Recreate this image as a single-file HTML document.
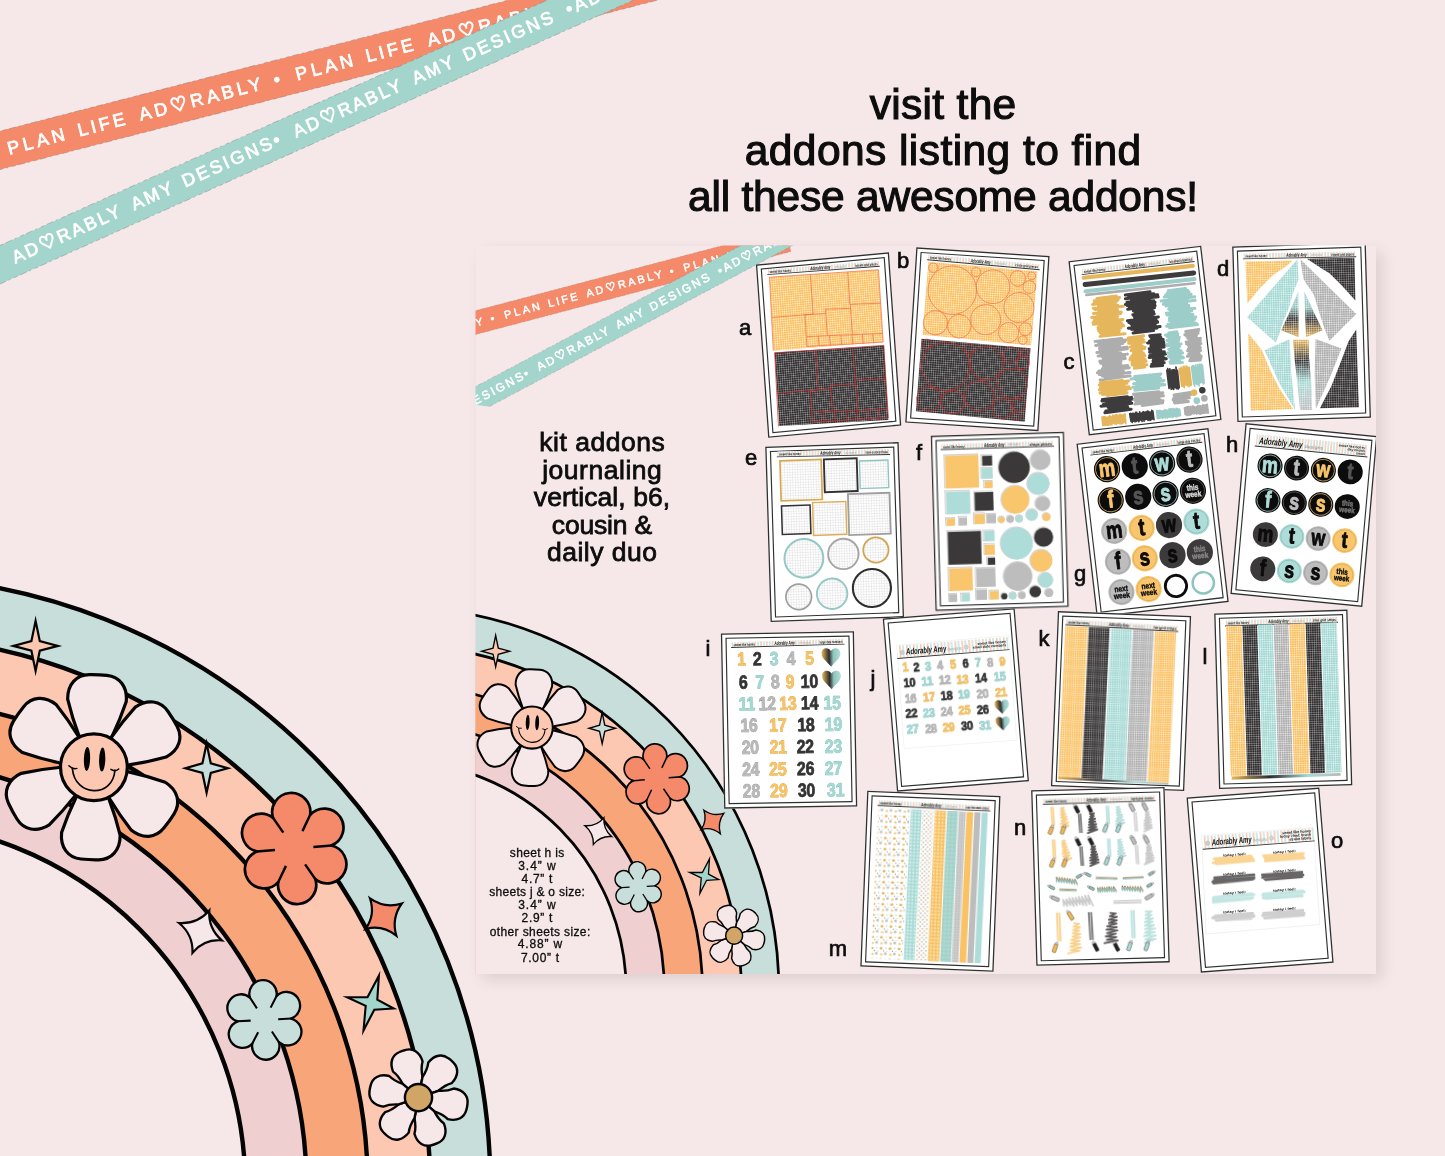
<!DOCTYPE html>
<html lang="en"><head><meta charset="utf-8"><title>kit addons</title>
<style>
html,body{margin:0;padding:0;overflow:hidden;}
body{width:1445px;height:1156px;overflow:hidden;background:#F6E8E9;position:relative;font-family:"Liberation Sans","DejaVu Sans",sans-serif;}
svg{position:absolute;left:0;top:0;display:block;overflow:hidden;will-change:transform}
.t{position:absolute;text-align:center;white-space:pre;line-height:normal;will-change:transform;}
.card{position:absolute;left:475.5px;top:245.5px;width:900.5px;height:728.5px;background:#F6E8E9;box-shadow:6px 6px 14px rgba(20,10,12,0.105);}
.lab{position:absolute;width:40px;height:40px;line-height:40px;text-align:center;font-size:22px;color:#0d0d0d;-webkit-text-stroke:0.7px #0d0d0d;will-change:transform;}
text{white-space:pre}
</style></head>
<body>
<svg width="1445" height="1156" viewBox="0 0 1445 1156">
<defs>
<g id="rainbow"><g>
<circle cx="-118.2" cy="1185.3" r="608.55" fill="#C8DEDA" stroke="#040404" stroke-width="4.4"/>
<circle cx="-118.2" cy="1185.3" r="548.3" fill="#FCC8B2" stroke="#040404" stroke-width="4.4"/>
<circle cx="-118.2" cy="1185.3" r="485.9" fill="#F8A579" stroke="#040404" stroke-width="4.4"/>
<circle cx="-118.2" cy="1185.3" r="424.7" fill="#F0CFD0" stroke="#040404" stroke-width="4.4"/>
<circle cx="-118.2" cy="1185.3" r="363.4" fill="#F6E8E9" stroke="#040404" stroke-width="4.4"/>
<path d="M35.60,620.90 L39.80,641.10 L57.90,645.90 L39.80,650.70 L35.60,670.90 L31.40,650.70 L13.30,645.90 L31.40,641.10 Z" fill="#FCC8B2" stroke="#040404" stroke-width="2.2" stroke-linejoin="miter" stroke-miterlimit="12"/>
<path d="M206.60,743.60 L210.80,763.40 L227.80,768.20 L210.80,773.00 L206.60,792.80 L202.40,773.00 L185.40,768.20 L202.40,763.40 Z" fill="#C8DEDA" stroke="#040404" stroke-width="2.2" stroke-linejoin="miter" stroke-miterlimit="12"/>
<g transform="translate(93.9,767.2)">
<path d="M0,0 L-16.43,-30.90 Q-24.15,-48.84 -29.30,-66.78 C-30.18,-81.70 -21.68,-91.58 -8.79,-92.31 Q0,-92.87 8.79,-92.31 C21.68,-91.58 30.18,-81.70 29.30,-66.78 Q24.15,-48.84 16.43,-30.90 Z" transform="rotate(2.6)" fill="#F6E8E9" stroke="#040404" stroke-width="3.2" stroke-linejoin="round"/>
<path d="M0,0 L-16.43,-30.90 Q-24.15,-48.84 -29.30,-66.78 C-30.18,-81.70 -21.68,-91.58 -8.79,-92.31 Q0,-92.87 8.79,-92.31 C21.68,-91.58 30.18,-81.70 29.30,-66.78 Q24.15,-48.84 16.43,-30.90 Z" transform="rotate(58.3)" fill="#F6E8E9" stroke="#040404" stroke-width="3.2" stroke-linejoin="round"/>
<path d="M0,0 L-16.43,-30.90 Q-24.15,-48.84 -29.30,-66.78 C-30.18,-81.70 -21.68,-91.58 -8.79,-92.31 Q0,-92.87 8.79,-92.31 C21.68,-91.58 30.18,-81.70 29.30,-66.78 Q24.15,-48.84 16.43,-30.90 Z" transform="rotate(125.6)" fill="#F6E8E9" stroke="#040404" stroke-width="3.2" stroke-linejoin="round"/>
<path d="M0,0 L-16.43,-30.90 Q-24.15,-48.84 -29.30,-66.78 C-30.18,-81.70 -21.68,-91.58 -8.79,-92.31 Q0,-92.87 8.79,-92.31 C21.68,-91.58 30.18,-81.70 29.30,-66.78 Q24.15,-48.84 16.43,-30.90 Z" transform="rotate(182.6)" fill="#F6E8E9" stroke="#040404" stroke-width="3.2" stroke-linejoin="round"/>
<path d="M0,0 L-16.43,-30.90 Q-24.15,-48.84 -29.30,-66.78 C-30.18,-81.70 -21.68,-91.58 -8.79,-92.31 Q0,-92.87 8.79,-92.31 C21.68,-91.58 30.18,-81.70 29.30,-66.78 Q24.15,-48.84 16.43,-30.90 Z" transform="rotate(241.5)" fill="#F6E8E9" stroke="#040404" stroke-width="3.2" stroke-linejoin="round"/>
<path d="M0,0 L-16.43,-30.90 Q-24.15,-48.84 -29.30,-66.78 C-30.18,-81.70 -21.68,-91.58 -8.79,-92.31 Q0,-92.87 8.79,-92.31 C21.68,-91.58 30.18,-81.70 29.30,-66.78 Q24.15,-48.84 16.43,-30.90 Z" transform="rotate(305.3)" fill="#F6E8E9" stroke="#040404" stroke-width="3.2" stroke-linejoin="round"/>
<circle r="33.4" fill="#FCC8B2" stroke="#040404" stroke-width="3.2"/>
<ellipse cx="-6.9" cy="-8.3" rx="3.1" ry="12" fill="#040404" transform="rotate(2 -6.9 -8.3)"/>
<ellipse cx="8.3" cy="-7.6" rx="3.1" ry="12" fill="#040404" transform="rotate(2 8.3 -7.6)"/>
<path d="M-21.5,1.5 C-19,30 19,31 21,3" fill="none" stroke="#040404" stroke-width="1.7" stroke-linecap="round"/>
<path d="M-25,-1.5 Q-21,2.5 -17,1.2 M24.8,1.8 Q21,5 17,2.2" fill="none" stroke="#040404" stroke-width="1.5" stroke-linecap="round"/>
</g>
<g transform="translate(294.2,848.5) rotate(-4.6)">
<path d="M37.15,0.00 A19.10,19.10 0 1 1 18.58,32.17 A19.10,19.10 0 1 1 -18.58,32.17 A19.10,19.10 0 1 1 -37.15,0.00 A19.10,19.10 0 1 1 -18.58,-32.17 A19.10,19.10 0 1 1 18.58,-32.17 A19.10,19.10 0 1 1 37.15,0.00 Z" fill="#F58A6B" stroke="#040404" stroke-width="2.7" stroke-linejoin="round"/>
<path d="M37.65,0.00 L19.22,0.00 M18.83,32.61 L9.61,16.64 M-18.83,32.61 L-9.61,16.64 M-37.65,0.00 L-19.22,0.00 M-18.83,-32.61 L-9.61,-16.64 M18.83,-32.61 L9.61,-16.64 " fill="none" stroke="#040404" stroke-width="2.43" stroke-linecap="butt"/>
</g>
<path d="M370.00,898.40 Q384.65,908.79 401.80,903.50 Q391.23,918.09 396.30,935.60 Q382.15,924.46 365.50,929.00 Q375.57,915.16 370.00,898.40 Z" fill="#F58A6B" stroke="#040404" stroke-width="2.2" stroke-linejoin="miter" stroke-miterlimit="10"/>
<path d="M179.00,923.00 Q197.40,924.19 209.30,910.50 Q208.10,928.51 221.80,940.30 Q203.90,939.06 192.50,952.70 Q193.20,934.74 179.00,923.00 Z" fill="#F6E8E9" stroke="#040404" stroke-width="2.2" stroke-linejoin="miter" stroke-miterlimit="10"/>
<g transform="translate(264.4,1019.9) rotate(-3)">
<path d="M26.61,0.00 A13.68,13.68 0 1 1 13.31,23.05 A13.68,13.68 0 1 1 -13.31,23.05 A13.68,13.68 0 1 1 -26.61,0.00 A13.68,13.68 0 1 1 -13.31,-23.05 A13.68,13.68 0 1 1 13.31,-23.05 A13.68,13.68 0 1 1 26.61,0.00 Z" fill="#C8DEDA" stroke="#040404" stroke-width="2.3" stroke-linejoin="round"/>
<path d="M27.11,0.00 L13.77,0.00 M13.56,23.48 L6.88,11.92 M-13.56,23.48 L-6.88,11.92 M-27.11,0.00 L-13.77,0.00 M-13.56,-23.48 L-6.88,-11.92 M13.56,-23.48 L6.88,-11.92 " fill="none" stroke="#040404" stroke-width="2.07" stroke-linecap="butt"/>
</g>
<path d="M378.90,975.70 L377.30,999.70 L393.70,1008.50 L374.30,1009.70 L363.50,1030.50 L365.70,1005.90 L347.10,997.20 L367.50,997.30 Z" fill="#A4D5CC" stroke="#040404" stroke-width="2.1" stroke-linejoin="miter" stroke-miterlimit="12"/>
<g transform="translate(418.5,1097.6)">
<path d="M0,0 L-10.50,-18.19 Q-11.77,-27.28 -15.60,-32.85 C-16.07,-43.11 -10.61,-48.91 -3.12,-49.30 Q0,-49.60 3.12,-49.30 C10.61,-48.91 16.07,-43.11 15.60,-32.85 Q11.77,-27.28 10.50,-18.19 Z" transform="rotate(-19)" fill="#F6E8E9" stroke="#040404" stroke-width="2.4" stroke-linejoin="round"/>
<path d="M0,0 L-10.50,-18.19 Q-11.77,-27.28 -15.60,-32.85 C-16.07,-43.11 -10.61,-48.91 -3.12,-49.30 Q0,-49.60 3.12,-49.30 C10.61,-48.91 16.07,-43.11 15.60,-32.85 Q11.77,-27.28 10.50,-18.19 Z" transform="rotate(41)" fill="#F6E8E9" stroke="#040404" stroke-width="2.4" stroke-linejoin="round"/>
<path d="M0,0 L-10.50,-18.19 Q-11.77,-27.28 -15.60,-32.85 C-16.07,-43.11 -10.61,-48.91 -3.12,-49.30 Q0,-49.60 3.12,-49.30 C10.61,-48.91 16.07,-43.11 15.60,-32.85 Q11.77,-27.28 10.50,-18.19 Z" transform="rotate(101)" fill="#F6E8E9" stroke="#040404" stroke-width="2.4" stroke-linejoin="round"/>
<path d="M0,0 L-10.50,-18.19 Q-11.77,-27.28 -15.60,-32.85 C-16.07,-43.11 -10.61,-48.91 -3.12,-49.30 Q0,-49.60 3.12,-49.30 C10.61,-48.91 16.07,-43.11 15.60,-32.85 Q11.77,-27.28 10.50,-18.19 Z" transform="rotate(161)" fill="#F6E8E9" stroke="#040404" stroke-width="2.4" stroke-linejoin="round"/>
<path d="M0,0 L-10.50,-18.19 Q-11.77,-27.28 -15.60,-32.85 C-16.07,-43.11 -10.61,-48.91 -3.12,-49.30 Q0,-49.60 3.12,-49.30 C10.61,-48.91 16.07,-43.11 15.60,-32.85 Q11.77,-27.28 10.50,-18.19 Z" transform="rotate(221)" fill="#F6E8E9" stroke="#040404" stroke-width="2.4" stroke-linejoin="round"/>
<path d="M0,0 L-10.50,-18.19 Q-11.77,-27.28 -15.60,-32.85 C-16.07,-43.11 -10.61,-48.91 -3.12,-49.30 Q0,-49.60 3.12,-49.30 C10.61,-48.91 16.07,-43.11 15.60,-32.85 Q11.77,-27.28 10.50,-18.19 Z" transform="rotate(281)" fill="#F6E8E9" stroke="#040404" stroke-width="2.4" stroke-linejoin="round"/>
<circle r="13.6" fill="#D1A566" stroke="#040404" stroke-width="2.4"/>
</g>
</g></g>
<clipPath id="cardclip"><rect x="475.5" y="245.5" width="900.5" height="728.5"/></clipPath>
<clipPath id="tealclip"><polygon points="475.1,0 1445,0 1445,1156 520,412 489.9,406.8 475.1,404.7"/></clipPath>
<pattern id="gGold" width="2.25" height="2.25" patternUnits="userSpaceOnUse"><rect width="2.25" height="2.25" fill="#F9BE5C"/><path d="M0,0.3 H2.25 M0.3,0 V2.25" stroke="#fff" stroke-width="0.6" stroke-opacity="0.6"/></pattern>
<pattern id="gBlack" width="2.25" height="2.25" patternUnits="userSpaceOnUse"><rect width="2.25" height="2.25" fill="#2c2a2b"/><path d="M0,0.3 H2.25 M0.3,0 V2.25" stroke="#fff" stroke-width="0.6" stroke-opacity="0.42"/></pattern>
<pattern id="gTeal" width="2.25" height="2.25" patternUnits="userSpaceOnUse"><rect width="2.25" height="2.25" fill="#9ED6D1"/><path d="M0,0.3 H2.25 M0.3,0 V2.25" stroke="#fff" stroke-width="0.6" stroke-opacity="0.62"/></pattern>
<pattern id="gGray" width="2.25" height="2.25" patternUnits="userSpaceOnUse"><rect width="2.25" height="2.25" fill="#ABABAB"/><path d="M0,0.3 H2.25 M0.3,0 V2.25" stroke="#fff" stroke-width="0.6" stroke-opacity="0.6"/></pattern>
<pattern id="gOver" width="2.25" height="2.25" patternUnits="userSpaceOnUse"><path d="M0,0.3 H2.25 M0.3,0 V2.25" stroke="#fff" stroke-width="0.6" stroke-opacity="0.6"/></pattern>
<pattern id="gWhite" width="2.6" height="2.6" patternUnits="userSpaceOnUse"><rect width="2.6" height="2.6" fill="#ffffff"/><path d="M0,0.175 H2.6 M0.175,0 V2.6" stroke="#9a9a9a" stroke-width="0.35" stroke-opacity="0.6"/></pattern>
<pattern id="hstripe" width="5.8" height="8" patternUnits="userSpaceOnUse"><rect width="5.8" height="8" fill="#fff"/><rect x="0.3" width="1.5" height="8" fill="#F9C7B3"/><rect x="3.2" width="1.4" height="8" fill="#BDE3DE"/></pattern><pattern id="hstripeB" width="7" height="8" patternUnits="userSpaceOnUse"><rect width="7" height="8" fill="#fff"/><rect x="0" width="1.6" height="8" fill="#F9C7B3"/><rect x="3.4" width="1.4" height="8" fill="#BCE2DD"/></pattern>
<linearGradient id="gmix" x1="0" x2="1" y1="0" y2="0"><stop offset="0" stop-color="#E9B75A"/><stop offset="0.35" stop-color="#2d2b2c"/><stop offset="0.7" stop-color="#A6DAD5"/><stop offset="1" stop-color="#B9B9B9"/></linearGradient>
<linearGradient id="gheart" x1="0" x2="1" y1="0" y2="0"><stop offset="0" stop-color="#E9B75A"/><stop offset="0.4" stop-color="#2d2b2c"/><stop offset="0.62" stop-color="#8fc4bf"/><stop offset="1" stop-color="#B5DFDB"/></linearGradient>
<linearGradient id="gvert1" x1="0" x2="0" y1="0" y2="1"><stop offset="0" stop-color="#A6DAD5"/><stop offset="0.35" stop-color="#8fbfbb"/><stop offset="0.6" stop-color="#2d2b2c"/><stop offset="1" stop-color="#E9B75A"/></linearGradient>
<linearGradient id="gvert2" x1="0" x2="0" y1="0" y2="1"><stop offset="0" stop-color="#E9B75A"/><stop offset="0.3" stop-color="#2d2b2c"/><stop offset="0.6" stop-color="#A6DAD5"/><stop offset="1" stop-color="#B9B9B9"/></linearGradient>
<filter id="rough" x="-5%" y="-5%" width="110%" height="110%"><feTurbulence type="fractalNoise" baseFrequency="0.35" numOctaves="2" seed="3" result="n"/><feDisplacementMap in="SourceGraphic" in2="n" scale="2.2" xChannelSelector="R" yChannelSelector="G"/></filter>
<filter id="rough2" x="-5%" y="-5%" width="110%" height="110%"><feTurbulence type="fractalNoise" baseFrequency="0.6" numOctaves="2" seed="8" result="n"/><feDisplacementMap in="SourceGraphic" in2="n" scale="1.4" xChannelSelector="R" yChannelSelector="G"/></filter>
<pattern id="pBee" width="9" height="11" patternUnits="userSpaceOnUse"><rect width="9" height="11" fill="#fff"/><ellipse cx="2" cy="2.5" rx="1.5" ry="1.1" fill="#E3AE4C"/><circle cx="6.5" cy="7.5" r="1.4" fill="#bdbdbd"/><circle cx="6.8" cy="2" r="0.7" fill="#9fd4cf"/><ellipse cx="2.5" cy="8.5" rx="1.3" ry="1" fill="#EDBB5C"/><circle cx="4.5" cy="5" r="0.6" fill="#8f8f8f"/><circle cx="8" cy="5" r="0.5" fill="#d9b06a"/></pattern>
<pattern id="pTealX" width="3.4" height="3.4" patternUnits="userSpaceOnUse"><rect width="3.4" height="3.4" fill="#A6D9D4"/><path d="M1.7,0.4 L3,1.7 L1.7,3 L0.4,1.7 Z" fill="#e3f4f2"/></pattern>
<pattern id="pGoldX" width="3.4" height="3.4" patternUnits="userSpaceOnUse"><rect width="3.4" height="3.4" fill="#F8BF5C"/><path d="M1.7,0.4 L3,1.7 L1.7,3 L0.4,1.7 Z" fill="#fdeccb"/></pattern>
<pattern id="pDots" width="4.4" height="4.4" patternUnits="userSpaceOnUse"><rect width="4.4" height="4.4" fill="#fff"/><circle cx="1.1" cy="1.1" r="0.95" fill="#c4c4c4"/><circle cx="3.3" cy="3.3" r="0.95" fill="#d6bf98"/></pattern>
<pattern id="pTealD" width="4" height="4" patternUnits="userSpaceOnUse"><rect width="4" height="4" fill="#A3D6D1"/><circle cx="1" cy="1" r="0.6" fill="#d9b48a"/><circle cx="3" cy="3" r="0.6" fill="#c4e6e2"/></pattern>
<pattern id="pGrayD" width="2.6" height="2.6" patternUnits="userSpaceOnUse"><rect width="2.6" height="2.6" fill="#C3C3C3"/><circle cx="1.3" cy="1.3" r="0.6" fill="#e3e3e3"/></pattern>
<filter id="soft" x="-5%" y="-5%" width="110%" height="110%"><feGaussianBlur stdDeviation="0.3"/></filter>
</defs>
<use href="#rainbow"/>
<g transform="translate(0,150.35) rotate(-14.45)"><rect x="-60" y="-18.65" width="820" height="37.30" fill="#F58A6B"/>
<path d="M-60,-18.65 H760 M-60,18.65 H760" stroke="#7d7d7d" stroke-opacity="0.5" stroke-width="0.8" stroke-dasharray="4 2.5 7 3 2 4" fill="none"/>
<text x="-153.95" y="6.5" textLength="125.30" lengthAdjust="spacing" font-family="'Liberation Sans','DejaVu Sans',sans-serif" font-size="18" fill="#fff" stroke="#fff" stroke-width="0.75">AD<tspan stroke-width="1.5" font-size="19.1">♡</tspan>RABLY</text>
<text x="-11.95" y="6.5" text-anchor="middle" font-family="'Liberation Sans','DejaVu Sans',sans-serif" font-size="18" fill="#fff" stroke="#fff" stroke-width="0.75">•</text>
<text x="7.75" y="6.5" textLength="58.70" lengthAdjust="spacing" font-family="'Liberation Sans','DejaVu Sans',sans-serif" font-size="18" fill="#fff" stroke="#fff" stroke-width="0.75">PLAN</text>
<text x="80.35" y="6.5" textLength="48.30" lengthAdjust="spacing" font-family="'Liberation Sans','DejaVu Sans',sans-serif" font-size="18" fill="#fff" stroke="#fff" stroke-width="0.75">LIFE</text>
<text x="143.65" y="6.5" textLength="125.30" lengthAdjust="spacing" font-family="'Liberation Sans','DejaVu Sans',sans-serif" font-size="18" fill="#fff" stroke="#fff" stroke-width="0.75">AD<tspan stroke-width="1.5" font-size="19.1">♡</tspan>RABLY</text>
<text x="285.65" y="6.5" text-anchor="middle" font-family="'Liberation Sans','DejaVu Sans',sans-serif" font-size="18" fill="#fff" stroke="#fff" stroke-width="0.75">•</text>
<text x="305.35" y="6.5" textLength="58.70" lengthAdjust="spacing" font-family="'Liberation Sans','DejaVu Sans',sans-serif" font-size="18" fill="#fff" stroke="#fff" stroke-width="0.75">PLAN</text>
<text x="377.95" y="6.5" textLength="48.30" lengthAdjust="spacing" font-family="'Liberation Sans','DejaVu Sans',sans-serif" font-size="18" fill="#fff" stroke="#fff" stroke-width="0.75">LIFE</text>
<text x="441.25" y="6.5" textLength="125.30" lengthAdjust="spacing" font-family="'Liberation Sans','DejaVu Sans',sans-serif" font-size="18" fill="#fff" stroke="#fff" stroke-width="0.75">AD<tspan stroke-width="1.5" font-size="19.1">♡</tspan>RABLY</text>
<text x="583.25" y="6.5" text-anchor="middle" font-family="'Liberation Sans','DejaVu Sans',sans-serif" font-size="18" fill="#fff" stroke="#fff" stroke-width="0.75">•</text>
<text x="602.95" y="6.5" textLength="58.70" lengthAdjust="spacing" font-family="'Liberation Sans','DejaVu Sans',sans-serif" font-size="18" fill="#fff" stroke="#fff" stroke-width="0.75">PLAN</text>
<text x="675.55" y="6.5" textLength="48.30" lengthAdjust="spacing" font-family="'Liberation Sans','DejaVu Sans',sans-serif" font-size="18" fill="#fff" stroke="#fff" stroke-width="0.75">LIFE</text>
<text x="738.85" y="6.5" textLength="125.30" lengthAdjust="spacing" font-family="'Liberation Sans','DejaVu Sans',sans-serif" font-size="18" fill="#fff" stroke="#fff" stroke-width="0.75">AD<tspan stroke-width="1.5" font-size="19.1">♡</tspan>RABLY</text></g>
<g transform="translate(0,264.7) rotate(-24.14)"><rect x="-60" y="-17.60" width="820" height="35.20" fill="#A4D5CC"/>
<path d="M-60,-17.60 H760 M-60,17.60 H760" stroke="#7d7d7d" stroke-opacity="0.5" stroke-width="0.8" stroke-dasharray="4 2.5 7 3 2 4" fill="none"/>
<text x="-107.35" y="5.3" textLength="97.10" lengthAdjust="spacing" font-family="'Liberation Sans','DejaVu Sans',sans-serif" font-size="18" fill="#fff" stroke="#fff" stroke-width="0.75">DESIGNS</text>
<text x="14.25" y="5.3" textLength="116.80" lengthAdjust="spacing" font-family="'Liberation Sans','DejaVu Sans',sans-serif" font-size="18" fill="#fff" stroke="#fff" stroke-width="0.75">AD<tspan stroke-width="1.5" font-size="19.1">♡</tspan>RABLY</text>
<text x="144.65" y="5.3" textLength="43.80" lengthAdjust="spacing" font-family="'Liberation Sans','DejaVu Sans',sans-serif" font-size="18" fill="#fff" stroke="#fff" stroke-width="0.75">AMY</text>
<text x="200.55" y="5.3" textLength="97.10" lengthAdjust="spacing" font-family="'Liberation Sans','DejaVu Sans',sans-serif" font-size="18" fill="#fff" stroke="#fff" stroke-width="0.75">DESIGNS</text>
<text x="303.25" y="5.3" text-anchor="middle" font-family="'Liberation Sans','DejaVu Sans',sans-serif" font-size="18" fill="#fff" stroke="#fff" stroke-width="0.75">•</text>
<text x="322.15" y="5.3" textLength="116.80" lengthAdjust="spacing" font-family="'Liberation Sans','DejaVu Sans',sans-serif" font-size="18" fill="#fff" stroke="#fff" stroke-width="0.75">AD<tspan stroke-width="1.5" font-size="19.1">♡</tspan>RABLY</text>
<text x="452.55" y="5.3" textLength="43.80" lengthAdjust="spacing" font-family="'Liberation Sans','DejaVu Sans',sans-serif" font-size="18" fill="#fff" stroke="#fff" stroke-width="0.75">AMY</text>
<text x="508.45" y="5.3" textLength="97.10" lengthAdjust="spacing" font-family="'Liberation Sans','DejaVu Sans',sans-serif" font-size="18" fill="#fff" stroke="#fff" stroke-width="0.75">DESIGNS</text>
<text x="624.05" y="5.3" text-anchor="middle" font-family="'Liberation Sans','DejaVu Sans',sans-serif" font-size="18" fill="#fff" stroke="#fff" stroke-width="0.75">•</text>
<text x="630.05" y="5.3" textLength="116.80" lengthAdjust="spacing" font-family="'Liberation Sans','DejaVu Sans',sans-serif" font-size="18" fill="#fff" stroke="#fff" stroke-width="0.75">AD<tspan stroke-width="1.5" font-size="19.1">♡</tspan>RABLY</text></g>
</svg>
<div class="t" style="left:543.2px;top:80.74px;width:800px;font-size:42.5px;letter-spacing:0.301px;text-indent:0.301px;color:#0d0d0d;font-weight:400;-webkit-text-stroke:1.15px #0d0d0d;">visit the</div>
<div class="t" style="left:543.2px;top:126.84px;width:800px;font-size:42.5px;letter-spacing:0.430px;text-indent:0.430px;color:#0d0d0d;font-weight:400;-webkit-text-stroke:1.15px #0d0d0d;">addons listing to find</div>
<div class="t" style="left:543.2px;top:173.04px;width:800px;font-size:42.5px;letter-spacing:-0.210px;text-indent:-0.210px;color:#0d0d0d;font-weight:400;-webkit-text-stroke:1.15px #0d0d0d;">all these awesome addons!</div>
<div class="card"></div>
<svg width="1445" height="1156" viewBox="0 0 1445 1156">
<g clip-path="url(#cardclip)">
<g transform="translate(473.5,244.4) scale(0.6228,0.6298)"><use href="#rainbow"/></g>
<g transform="translate(475,322.8) rotate(-14.77) scale(0.6228)"><rect x="-60" y="-18.65" width="580" height="37.30" fill="#F58A6B"/>
<path d="M-60,-18.65 H520 M-60,18.65 H520" stroke="#7d7d7d" stroke-opacity="0.5" stroke-width="0.8" stroke-dasharray="4 2.5 7 3 2 4" fill="none"/>
<text x="-113.05" y="6.2" textLength="125.30" lengthAdjust="spacing" font-family="'Liberation Sans','DejaVu Sans',sans-serif" font-size="17.3" fill="#fff" stroke="#fff" stroke-width="0.75">AD<tspan stroke-width="1.5" font-size="18.3">♡</tspan>RABLY</text>
<text x="28.95" y="6.2" text-anchor="middle" font-family="'Liberation Sans','DejaVu Sans',sans-serif" font-size="17.3" fill="#fff" stroke="#fff" stroke-width="0.75">•</text>
<text x="48.65" y="6.2" textLength="58.70" lengthAdjust="spacing" font-family="'Liberation Sans','DejaVu Sans',sans-serif" font-size="17.3" fill="#fff" stroke="#fff" stroke-width="0.75">PLAN</text>
<text x="121.25" y="6.2" textLength="48.30" lengthAdjust="spacing" font-family="'Liberation Sans','DejaVu Sans',sans-serif" font-size="17.3" fill="#fff" stroke="#fff" stroke-width="0.75">LIFE</text>
<text x="184.55" y="6.2" textLength="125.30" lengthAdjust="spacing" font-family="'Liberation Sans','DejaVu Sans',sans-serif" font-size="17.3" fill="#fff" stroke="#fff" stroke-width="0.75">AD<tspan stroke-width="1.5" font-size="18.3">♡</tspan>RABLY</text>
<text x="326.55" y="6.2" text-anchor="middle" font-family="'Liberation Sans','DejaVu Sans',sans-serif" font-size="17.3" fill="#fff" stroke="#fff" stroke-width="0.75">•</text>
<text x="346.25" y="6.2" textLength="58.70" lengthAdjust="spacing" font-family="'Liberation Sans','DejaVu Sans',sans-serif" font-size="17.3" fill="#fff" stroke="#fff" stroke-width="0.75">PLAN</text>
<text x="418.85" y="6.2" textLength="48.30" lengthAdjust="spacing" font-family="'Liberation Sans','DejaVu Sans',sans-serif" font-size="17.3" fill="#fff" stroke="#fff" stroke-width="0.75">LIFE</text>
<text x="482.15" y="6.2" textLength="125.30" lengthAdjust="spacing" font-family="'Liberation Sans','DejaVu Sans',sans-serif" font-size="17.3" fill="#fff" stroke="#fff" stroke-width="0.75">AD<tspan stroke-width="1.5" font-size="18.3">♡</tspan>RABLY</text></g>
<g clip-path="url(#tealclip)"><g transform="translate(475,400.6) rotate(-28.0) scale(0.685)"><rect x="-60" y="-17.70" width="660" height="35.40" fill="#A4D5CC"/>
<path d="M-60,-17.70 H600 M-60,17.70 H600" stroke="#7d7d7d" stroke-opacity="0.5" stroke-width="0.8" stroke-dasharray="4 2.5 7 3 2 4" fill="none"/>
<text x="-74.30" y="6.0" textLength="43.80" lengthAdjust="spacing" font-family="'Liberation Sans','DejaVu Sans',sans-serif" font-size="17.2" fill="#fff" stroke="#fff" stroke-width="0.75">AMY</text>
<text x="-18.40" y="6.0" textLength="97.10" lengthAdjust="spacing" font-family="'Liberation Sans','DejaVu Sans',sans-serif" font-size="17.2" fill="#fff" stroke="#fff" stroke-width="0.75">DESIGNS</text>
<text x="84.30" y="6.0" text-anchor="middle" font-family="'Liberation Sans','DejaVu Sans',sans-serif" font-size="17.2" fill="#fff" stroke="#fff" stroke-width="0.75">•</text>
<text x="103.20" y="6.0" textLength="116.80" lengthAdjust="spacing" font-family="'Liberation Sans','DejaVu Sans',sans-serif" font-size="17.2" fill="#fff" stroke="#fff" stroke-width="0.75">AD<tspan stroke-width="1.5" font-size="18.2">♡</tspan>RABLY</text>
<text x="233.60" y="6.0" textLength="43.80" lengthAdjust="spacing" font-family="'Liberation Sans','DejaVu Sans',sans-serif" font-size="17.2" fill="#fff" stroke="#fff" stroke-width="0.75">AMY</text>
<text x="289.50" y="6.0" textLength="97.10" lengthAdjust="spacing" font-family="'Liberation Sans','DejaVu Sans',sans-serif" font-size="17.2" fill="#fff" stroke="#fff" stroke-width="0.75">DESIGNS</text>
<text x="405.10" y="6.0" text-anchor="middle" font-family="'Liberation Sans','DejaVu Sans',sans-serif" font-size="17.2" fill="#fff" stroke="#fff" stroke-width="0.75">•</text>
<text x="411.10" y="6.0" textLength="116.80" lengthAdjust="spacing" font-family="'Liberation Sans','DejaVu Sans',sans-serif" font-size="17.2" fill="#fff" stroke="#fff" stroke-width="0.75">AD<tspan stroke-width="1.5" font-size="18.2">♡</tspan>RABLY</text>
<text x="541.50" y="6.0" textLength="43.80" lengthAdjust="spacing" font-family="'Liberation Sans','DejaVu Sans',sans-serif" font-size="17.2" fill="#fff" stroke="#fff" stroke-width="0.75">AMY</text>
<text x="597.40" y="6.0" textLength="97.10" lengthAdjust="spacing" font-family="'Liberation Sans','DejaVu Sans',sans-serif" font-size="17.2" fill="#fff" stroke="#fff" stroke-width="0.75">DESIGNS</text></g></g>
<g transform="matrix(0.98864 0.09731 -0.08580 0.97337 1245.48 423.12)" font-family="'Liberation Sans','DejaVu Sans',sans-serif">
<rect x="0" y="0" width="133.4" height="175.5" fill="#fff"/>
<rect x="0.65" y="0.65" width="132.1" height="174.2" fill="none" stroke="#303030" stroke-width="1.3"/>
<rect x="5.1" y="4.9" width="123.2" height="165.7" fill="none" stroke="#303030" stroke-width="1.15"/>
<rect x="12.31" y="10.18" width="111.97" height="11.5" fill="url(#hstripe)"/>
<text x="15.31" y="19.68" font-size="9.5" font-style="italic" font-weight="700" fill="#111" textLength="44" lengthAdjust="spacingAndGlyphs">Adorably Amy</text>
<text x="61.31" y="19.28" font-size="4.6" fill="#888" textLength="19" lengthAdjust="spacingAndGlyphs">designs</text>
<text x="122.28" y="14.28" font-size="3.4" font-weight="700" text-anchor="end" fill="#222">sweet like honey</text>
<text x="122.28" y="17.48" font-size="3.4" font-weight="700" text-anchor="end" fill="#222">day circles</text>
<text x="122.28" y="20.68" font-size="3.4" font-weight="700" text-anchor="end" fill="#222">small</text>
<rect x="11.31" y="21.88" width="113.97" height="0.9" fill="#333"/>
<circle cx="28.42" cy="41.08" r="12.63" fill="#0c0c0c"/>
<circle cx="28.42" cy="41.08" r="11.13" fill="none" stroke="#AEDCD8" stroke-width="0.7"/>
<text transform="translate(28.42,48.10) scale(0.92,1.2)" text-anchor="middle" font-size="19.5" font-weight="700" fill="#AEDCD8" stroke="#AEDCD8" stroke-width="0.8" stroke-linejoin="round">m</text>
<circle cx="55.18" cy="40.71" r="12.63" fill="#0c0c0c"/>
<circle cx="55.18" cy="40.71" r="11.13" fill="none" stroke="#666" stroke-width="0.7"/>
<text transform="translate(55.18,47.73) scale(0.92,1.2)" text-anchor="middle" font-size="19.5" font-weight="700" fill="#BDBDBD" stroke="#BDBDBD" stroke-width="0.8" stroke-linejoin="round">t</text>
<circle cx="82.26" cy="40.14" r="12.63" fill="#0c0c0c"/>
<circle cx="82.26" cy="40.14" r="11.13" fill="none" stroke="#F9C66D" stroke-width="0.7"/>
<text transform="translate(82.26,47.16) scale(0.92,1.2)" text-anchor="middle" font-size="19.5" font-weight="700" fill="#F9C66D" stroke="#F9C66D" stroke-width="0.8" stroke-linejoin="round">w</text>
<circle cx="109.32" cy="39.21" r="12.63" fill="#0c0c0c"/>
<text transform="translate(109.32,46.23) scale(0.92,1.2)" text-anchor="middle" font-size="19.5" font-weight="700" fill="#555" stroke="#555" stroke-width="0.8" stroke-linejoin="round">t</text>
<circle cx="29.40" cy="76.54" r="12.63" fill="#0c0c0c"/>
<circle cx="29.40" cy="76.54" r="11.13" fill="none" stroke="#AEDCD8" stroke-width="0.7"/>
<text transform="translate(29.40,83.56) scale(0.92,1.2)" text-anchor="middle" font-size="19.5" font-weight="700" fill="#AEDCD8" stroke="#AEDCD8" stroke-width="0.8" stroke-linejoin="round">f</text>
<circle cx="55.98" cy="76.20" r="12.63" fill="#0c0c0c"/>
<circle cx="55.98" cy="76.20" r="11.13" fill="none" stroke="#666" stroke-width="0.7"/>
<text transform="translate(55.98,83.22) scale(0.92,1.2)" text-anchor="middle" font-size="19.5" font-weight="700" fill="#BDBDBD" stroke="#BDBDBD" stroke-width="0.8" stroke-linejoin="round">s</text>
<circle cx="82.69" cy="75.31" r="12.63" fill="#0c0c0c"/>
<circle cx="82.69" cy="75.31" r="11.13" fill="none" stroke="#F9C66D" stroke-width="0.7"/>
<text transform="translate(82.69,82.33) scale(0.92,1.2)" text-anchor="middle" font-size="19.5" font-weight="700" fill="#F9C66D" stroke="#F9C66D" stroke-width="0.8" stroke-linejoin="round">s</text>
<circle cx="109.43" cy="74.77" r="12.63" fill="#0c0c0c"/>
<text transform="translate(109.43,74.17) scale(1,1.25)" text-anchor="middle" font-size="6.4" font-weight="700" fill="#777" stroke="#777" stroke-width="0.3">this</text>
<text transform="translate(109.43,80.85) scale(1,1.25)" text-anchor="middle" font-size="6.4" font-weight="700" fill="#777" stroke="#777" stroke-width="0.3">week</text>
<circle cx="29.81" cy="111.53" r="12.63" fill="#3c3a3b"/>
<text transform="translate(29.81,118.55) scale(0.92,1.2)" text-anchor="middle" font-size="19.5" font-weight="700" fill="#0c0c0c" stroke="#0c0c0c" stroke-width="0.8" stroke-linejoin="round">m</text>
<circle cx="56.53" cy="110.81" r="12.63" fill="#AEDCD8"/>
<circle cx="56.53" cy="110.81" r="11.13" fill="none" stroke="#7fb8b3" stroke-width="0.7"/>
<text transform="translate(56.53,117.83) scale(0.92,1.2)" text-anchor="middle" font-size="19.5" font-weight="700" fill="#0c0c0c" stroke="#0c0c0c" stroke-width="0.8" stroke-linejoin="round">t</text>
<circle cx="83.10" cy="110.29" r="12.63" fill="#BDBDBD"/>
<circle cx="83.10" cy="110.29" r="11.13" fill="none" stroke="#999" stroke-width="0.7"/>
<text transform="translate(83.10,117.31) scale(0.92,1.2)" text-anchor="middle" font-size="19.5" font-weight="700" fill="#0c0c0c" stroke="#0c0c0c" stroke-width="0.8" stroke-linejoin="round">w</text>
<circle cx="109.84" cy="109.75" r="12.63" fill="#F9C66D"/>
<circle cx="109.84" cy="109.75" r="11.13" fill="none" stroke="#d9a84e" stroke-width="0.7"/>
<text transform="translate(109.84,116.77) scale(0.92,1.2)" text-anchor="middle" font-size="19.5" font-weight="700" fill="#0c0c0c" stroke="#0c0c0c" stroke-width="0.8" stroke-linejoin="round">t</text>
<circle cx="30.24" cy="146.69" r="12.63" fill="#3c3a3b"/>
<text transform="translate(30.24,153.71) scale(0.92,1.2)" text-anchor="middle" font-size="19.5" font-weight="700" fill="#0c0c0c" stroke="#0c0c0c" stroke-width="0.8" stroke-linejoin="round">f</text>
<circle cx="56.98" cy="146.16" r="12.63" fill="#AEDCD8"/>
<circle cx="56.98" cy="146.16" r="11.13" fill="none" stroke="#7fb8b3" stroke-width="0.7"/>
<text transform="translate(56.98,153.18) scale(0.92,1.2)" text-anchor="middle" font-size="19.5" font-weight="700" fill="#0c0c0c" stroke="#0c0c0c" stroke-width="0.8" stroke-linejoin="round">s</text>
<circle cx="83.53" cy="145.46" r="12.63" fill="#BDBDBD"/>
<circle cx="83.53" cy="145.46" r="11.13" fill="none" stroke="#999" stroke-width="0.7"/>
<text transform="translate(83.53,152.48) scale(0.92,1.2)" text-anchor="middle" font-size="19.5" font-weight="700" fill="#0c0c0c" stroke="#0c0c0c" stroke-width="0.8" stroke-linejoin="round">s</text>
<circle cx="110.09" cy="144.94" r="12.63" fill="#F9C66D"/>
<circle cx="110.09" cy="144.94" r="11.13" fill="none" stroke="#d9a84e" stroke-width="0.7"/>
<text transform="translate(110.09,144.34) scale(1,1.25)" text-anchor="middle" font-size="6.4" font-weight="700" fill="#0c0c0c" stroke="#0c0c0c" stroke-width="0.3">this</text>
<text transform="translate(110.09,151.02) scale(1,1.25)" text-anchor="middle" font-size="6.4" font-weight="700" fill="#0c0c0c" stroke="#0c0c0c" stroke-width="0.3">week</text>
</g>
<g transform="matrix(0.98994 -0.11677 0.11538 0.99014 1076.44 443.69)" font-family="'Liberation Sans','DejaVu Sans',sans-serif">
<rect x="0" y="0" width="133.4" height="175.5" fill="#fff"/>
<rect x="0.65" y="0.65" width="132.1" height="174.2" fill="none" stroke="#303030" stroke-width="1.3"/>
<rect x="5.1" y="4.9" width="123.2" height="165.7" fill="none" stroke="#303030" stroke-width="1.15"/>
<g transform="translate(12.51,12.66) rotate(0.20)">
<rect x="0.8" y="-5.00" width="111.47" height="5.00" fill="url(#hstripe)"/>
<text x="2.4" y="-1.0" font-size="3.60" font-weight="700" fill="#222" textLength="21.48" lengthAdjust="spacingAndGlyphs">sweet like honey</text>
<text x="53.54" y="-0.9" font-size="5.04" font-style="italic" font-weight="700" fill="#1a1a1a" text-anchor="middle" textLength="20.35" lengthAdjust="spacingAndGlyphs">Adorably Amy</text>
<text x="73.50" y="-1.4" font-size="2.88" fill="#aaa" text-anchor="middle" textLength="11.31" lengthAdjust="spacingAndGlyphs">designs</text>
<text x="111.07" y="-1.0" font-size="3.60" font-weight="700" fill="#222" text-anchor="end" textLength="22.61" lengthAdjust="spacingAndGlyphs">large day circles</text>
<rect x="0" y="-0.1" width="113.07" height="0.95" fill="#333"/>
</g>
<circle cx="27.57" cy="28.95" r="13.15" fill="#0c0c0c"/>
<circle cx="27.57" cy="28.95" r="11.65" fill="none" stroke="#F9C66D" stroke-width="0.7"/>
<text transform="translate(27.57,36.15) scale(0.92,1.2)" text-anchor="middle" font-size="20" font-weight="700" fill="#F9C66D" stroke="#F9C66D" stroke-width="0.8" stroke-linejoin="round">m</text>
<circle cx="55.51" cy="29.27" r="13.15" fill="#0c0c0c"/>
<text transform="translate(55.51,36.47) scale(0.92,1.2)" text-anchor="middle" font-size="20" font-weight="700" fill="#555" stroke="#555" stroke-width="0.8" stroke-linejoin="round">t</text>
<circle cx="83.08" cy="29.72" r="13.15" fill="#0c0c0c"/>
<circle cx="83.08" cy="29.72" r="11.65" fill="none" stroke="#AEDCD8" stroke-width="0.7"/>
<text transform="translate(83.08,36.92) scale(0.92,1.2)" text-anchor="middle" font-size="20" font-weight="700" fill="#AEDCD8" stroke="#AEDCD8" stroke-width="0.8" stroke-linejoin="round">w</text>
<circle cx="110.77" cy="29.15" r="13.15" fill="#0c0c0c"/>
<circle cx="110.77" cy="29.15" r="11.65" fill="none" stroke="#777" stroke-width="0.7"/>
<text transform="translate(110.77,36.35) scale(0.92,1.2)" text-anchor="middle" font-size="20" font-weight="700" fill="#BDBDBD" stroke="#BDBDBD" stroke-width="0.8" stroke-linejoin="round">t</text>
<circle cx="27.58" cy="60.41" r="13.15" fill="#0c0c0c"/>
<circle cx="27.58" cy="60.41" r="11.65" fill="none" stroke="#F9C66D" stroke-width="0.7"/>
<text transform="translate(27.58,67.61) scale(0.92,1.2)" text-anchor="middle" font-size="20" font-weight="700" fill="#F9C66D" stroke="#F9C66D" stroke-width="0.8" stroke-linejoin="round">f</text>
<circle cx="55.40" cy="60.20" r="13.15" fill="#0c0c0c"/>
<text transform="translate(55.40,67.40) scale(0.92,1.2)" text-anchor="middle" font-size="20" font-weight="700" fill="#555" stroke="#555" stroke-width="0.8" stroke-linejoin="round">s</text>
<circle cx="82.99" cy="60.48" r="13.15" fill="#0c0c0c"/>
<circle cx="82.99" cy="60.48" r="11.65" fill="none" stroke="#AEDCD8" stroke-width="0.7"/>
<text transform="translate(82.99,67.68) scale(0.92,1.2)" text-anchor="middle" font-size="20" font-weight="700" fill="#AEDCD8" stroke="#AEDCD8" stroke-width="0.8" stroke-linejoin="round">s</text>
<circle cx="110.60" cy="60.59" r="13.15" fill="#0c0c0c"/>
<circle cx="110.60" cy="60.59" r="11.65" fill="none" stroke="#666" stroke-width="0.7"/>
<text transform="translate(110.60,59.99) scale(1,1.25)" text-anchor="middle" font-size="6.6" font-weight="700" fill="#ddd" stroke="#ddd" stroke-width="0.3">this</text>
<text transform="translate(110.60,66.86) scale(1,1.25)" text-anchor="middle" font-size="6.6" font-weight="700" fill="#ddd" stroke="#ddd" stroke-width="0.3">week</text>
<circle cx="27.47" cy="91.34" r="13.15" fill="#BDBDBD"/>
<circle cx="27.47" cy="91.34" r="11.65" fill="none" stroke="#999" stroke-width="0.7"/>
<text transform="translate(27.47,98.54) scale(0.92,1.2)" text-anchor="middle" font-size="20" font-weight="700" fill="#0c0c0c" stroke="#0c0c0c" stroke-width="0.8" stroke-linejoin="round">m</text>
<circle cx="55.23" cy="91.64" r="13.15" fill="#F9C66D"/>
<circle cx="55.23" cy="91.64" r="11.65" fill="none" stroke="#d9a84e" stroke-width="0.7"/>
<text transform="translate(55.23,98.84) scale(0.92,1.2)" text-anchor="middle" font-size="20" font-weight="700" fill="#0c0c0c" stroke="#0c0c0c" stroke-width="0.8" stroke-linejoin="round">t</text>
<circle cx="82.82" cy="91.92" r="13.15" fill="#3c3a3b"/>
<text transform="translate(82.82,99.12) scale(0.92,1.2)" text-anchor="middle" font-size="20" font-weight="700" fill="#0c0c0c" stroke="#0c0c0c" stroke-width="0.8" stroke-linejoin="round">w</text>
<circle cx="110.47" cy="91.69" r="13.15" fill="#AEDCD8"/>
<circle cx="110.47" cy="91.69" r="11.65" fill="none" stroke="#7fb8b3" stroke-width="0.7"/>
<text transform="translate(110.47,98.89) scale(0.92,1.2)" text-anchor="middle" font-size="20" font-weight="700" fill="#0c0c0c" stroke="#0c0c0c" stroke-width="0.8" stroke-linejoin="round">t</text>
<circle cx="27.68" cy="122.48" r="13.15" fill="#BDBDBD"/>
<circle cx="27.68" cy="122.48" r="11.65" fill="none" stroke="#999" stroke-width="0.7"/>
<text transform="translate(27.68,129.68) scale(0.92,1.2)" text-anchor="middle" font-size="20" font-weight="700" fill="#0c0c0c" stroke="#0c0c0c" stroke-width="0.8" stroke-linejoin="round">f</text>
<circle cx="54.82" cy="122.18" r="13.15" fill="#F9C66D"/>
<circle cx="54.82" cy="122.18" r="11.65" fill="none" stroke="#d9a84e" stroke-width="0.7"/>
<text transform="translate(54.82,129.38) scale(0.92,1.2)" text-anchor="middle" font-size="20" font-weight="700" fill="#0c0c0c" stroke="#0c0c0c" stroke-width="0.8" stroke-linejoin="round">s</text>
<circle cx="82.78" cy="122.33" r="13.15" fill="#3c3a3b"/>
<text transform="translate(82.78,129.53) scale(0.92,1.2)" text-anchor="middle" font-size="20" font-weight="700" fill="#0c0c0c" stroke="#0c0c0c" stroke-width="0.8" stroke-linejoin="round">s</text>
<circle cx="110.37" cy="122.62" r="13.15" fill="#3c3a3b"/>
<text transform="translate(110.37,122.02) scale(1,1.25)" text-anchor="middle" font-size="6.6" font-weight="700" fill="#888" stroke="#888" stroke-width="0.3">this</text>
<text transform="translate(110.37,128.89) scale(1,1.25)" text-anchor="middle" font-size="6.6" font-weight="700" fill="#888" stroke="#888" stroke-width="0.3">week</text>
<circle cx="27.62" cy="153.06" r="13.15" fill="#BDBDBD"/>
<circle cx="27.62" cy="153.06" r="11.65" fill="none" stroke="#999" stroke-width="0.7"/>
<text transform="translate(27.62,152.46) scale(1,1.25)" text-anchor="middle" font-size="6.6" font-weight="700" fill="#0c0c0c" stroke="#0c0c0c" stroke-width="0.3">next</text>
<text transform="translate(27.62,159.33) scale(1,1.25)" text-anchor="middle" font-size="6.6" font-weight="700" fill="#0c0c0c" stroke="#0c0c0c" stroke-width="0.3">week</text>
<circle cx="55.04" cy="153.32" r="13.15" fill="#F9C66D"/>
<circle cx="55.04" cy="153.32" r="11.65" fill="none" stroke="#d9a84e" stroke-width="0.7"/>
<text transform="translate(55.04,152.72) scale(1,1.25)" text-anchor="middle" font-size="6.6" font-weight="700" fill="#0c0c0c" stroke="#0c0c0c" stroke-width="0.3">next</text>
<text transform="translate(55.04,159.59) scale(1,1.25)" text-anchor="middle" font-size="6.6" font-weight="700" fill="#0c0c0c" stroke="#0c0c0c" stroke-width="0.3">week</text>
<circle cx="82.65" cy="153.43" r="10.73" fill="#fff" stroke="#0c0c0c" stroke-width="2.8"/>
<circle cx="110.26" cy="153.54" r="10.73" fill="#fff" stroke="#8cc4bf" stroke-width="2.4"/>
</g>
<g transform="matrix(1.00161 -0.03244 0.02959 1.00099 1232.15 246.38)" font-family="'Liberation Sans','DejaVu Sans',sans-serif">
<rect x="0" y="0" width="133.4" height="175.5" fill="#fff"/>
<rect x="0.65" y="0.65" width="132.1" height="174.2" fill="none" stroke="#303030" stroke-width="1.3"/>
<rect x="5.1" y="4.9" width="123.2" height="165.7" fill="none" stroke="#303030" stroke-width="1.15"/>
<g transform="translate(10.35,12.44) rotate(0.81)">
<rect x="0.8" y="-5.00" width="111.55" height="5.00" fill="url(#hstripe)"/>
<text x="2.4" y="-1.0" font-size="3.60" font-weight="700" fill="#222" textLength="21.50" lengthAdjust="spacingAndGlyphs">sweet like honey</text>
<text x="53.57" y="-0.9" font-size="5.04" font-style="italic" font-weight="700" fill="#1a1a1a" text-anchor="middle" textLength="20.37" lengthAdjust="spacingAndGlyphs">Adorably Amy</text>
<text x="73.55" y="-1.4" font-size="2.88" fill="#aaa" text-anchor="middle" textLength="11.31" lengthAdjust="spacingAndGlyphs">designs</text>
<text x="111.15" y="-1.0" font-size="3.60" font-weight="700" fill="#222" text-anchor="end" textLength="22.63" lengthAdjust="spacingAndGlyphs">ripped grid papers</text>
<rect x="0" y="-0.1" width="113.15" height="0.95" fill="#333"/>
</g>
<polygon points="12.85,15.46 60.00,16.12 53.27,21.61 40.07,29.83 26.74,42.36 13.34,57.49" fill="url(#gGold)"/>
<polygon points="74.21,14.85 121.71,15.36 121.32,57.88 107.96,42.40 96.23,29.92 87.75,24.46" fill="url(#gBlack)"/>
<polygon points="64.70,15.06 65.32,34.97 59.39,48.61 54.61,64.02 48.16,77.64 44.75,87.90 40.67,97.28 12.93,71.31" fill="url(#gTeal)"/>
<polygon points="67.63,15.16 121.79,71.38 94.24,97.29 90.23,86.78 86.30,73.69 80.05,51.01 70.16,35.13" fill="url(#gGray)"/>
<polygon points="64.62,47.05 63.61,92.84 46.55,85.37 54.46,69.20" fill="url(#gvert1)"/>
<polygon points="64.62,47.05 63.61,92.84 46.55,85.37 54.46,69.20" fill="url(#gOver)"/>
<polygon points="70.66,47.25 79.54,68.28 87.64,86.70 71.04,93.08" fill="url(#gvert1)"/>
<polygon points="70.66,47.25 79.54,68.28 87.64,86.70 71.04,93.08" fill="url(#gOver)"/>
<polygon points="13.33,86.89 19.98,95.75 26.63,104.61 34.65,125.62 42.77,143.17 55.97,164.35 13.62,164.70" fill="url(#gGold)"/>
<polygon points="29.22,104.69 54.57,94.62 55.26,129.74 58.02,165.28 42.93,137.99" fill="url(#gTeal)"/>
<polygon points="58.01,95.25 73.55,95.75 73.38,113.04 74.86,139.02 74.93,165.82 62.85,165.43 61.05,138.57 59.13,116.03" fill="url(#gvert2)"/>
<polygon points="58.01,95.25 73.55,95.75 73.38,113.04 74.86,139.02 74.93,165.82 62.85,165.43 61.05,138.57 59.13,116.03" fill="url(#gOver)"/>
<polygon points="80.48,95.11 106.09,105.45 94.97,131.03 78.76,165.08 78.57,130.50" fill="url(#gGray)"/>
<polygon points="121.33,86.93 121.62,164.74 82.75,164.35 94.61,143.12 107.62,112.42 113.20,98.77" fill="url(#gBlack)"/>
</g>
<g transform="matrix(0.99578 -0.11612 0.11588 0.99359 1068.39 261.16)" font-family="'Liberation Sans','DejaVu Sans',sans-serif">
<rect x="0" y="0" width="133.4" height="175.5" fill="#fff"/>
<rect x="0.65" y="0.65" width="132.1" height="174.2" fill="none" stroke="#303030" stroke-width="1.3"/>
<rect x="5.1" y="4.9" width="123.2" height="165.7" fill="none" stroke="#303030" stroke-width="1.15"/>
<g transform="translate(11.65,14.56) rotate(0.00)">
<rect x="0.8" y="-5.00" width="111.72" height="5.00" fill="url(#hstripe)"/>
<text x="2.4" y="-1.0" font-size="3.60" font-weight="700" fill="#222" textLength="21.53" lengthAdjust="spacingAndGlyphs">sweet like honey</text>
<text x="53.66" y="-0.9" font-size="5.04" font-style="italic" font-weight="700" fill="#1a1a1a" text-anchor="middle" textLength="20.40" lengthAdjust="spacingAndGlyphs">Adorably Amy</text>
<text x="73.66" y="-1.4" font-size="2.88" fill="#aaa" text-anchor="middle" textLength="11.33" lengthAdjust="spacingAndGlyphs">designs</text>
<text x="111.32" y="-1.0" font-size="3.60" font-weight="700" fill="#222" text-anchor="end" textLength="22.66" lengthAdjust="spacingAndGlyphs">brushed underlays</text>
<rect x="0" y="-0.1" width="113.32" height="0.95" fill="#333"/>
</g>
<g>
<line x1="13.30" y1="18.23" x2="122.70" y2="19.17" stroke="#E6B65C" stroke-width="4.2" stroke-linecap="round"/>
<line x1="13.90" y1="25.10" x2="122.75" y2="26.15" stroke="#3d3b3c" stroke-width="5.0" stroke-linecap="round"/>
<line x1="13.46" y1="31.84" x2="122.89" y2="32.43" stroke="#9DCDC9" stroke-width="4.0" stroke-linecap="round"/>
<line x1="13.90" y1="35.55" x2="122.41" y2="36.56" stroke="#ADADAD" stroke-width="2.6" stroke-linecap="round"/>
<path d="M23.94,40.27 L43.42,40.08 M21.02,42.29 L46.51,41.92 M20.72,44.17 L44.95,43.93 M19.01,45.80 L43.44,45.48 M24.51,47.71 L41.45,47.93 M19.26,49.57 L43.66,49.51 M20.68,51.09 L49.18,51.24 M24.54,52.92 L41.59,53.30 M18.82,54.77 L43.00,54.25 M22.85,56.73 L46.56,56.71 M16.55,58.56 L45.73,58.08 M19.39,59.96 L42.43,60.21 M18.63,62.13 L41.58,61.89 M17.25,63.75 L47.25,64.18 M17.50,65.67 L45.23,65.60 M23.68,67.63 L45.32,67.45 M21.69,69.21 L46.16,69.04 M21.59,70.77 L47.51,70.64 M21.91,72.74 L44.30,72.35 M23.18,74.81 L42.37,74.90 M24.41,76.39 L41.97,76.25 M22.72,78.35 L47.64,78.51" stroke="#E6B65C" stroke-width="3.0" stroke-linecap="round" fill="none" stroke-opacity="1"/>
<path d="M52.46,40.19 L77.38,39.78 M55.63,41.96 L80.87,42.16 M52.11,43.92 L84.56,43.65 M57.97,45.52 L84.79,45.78 M53.29,47.64 L76.52,46.93 M51.51,49.51 L80.06,49.13 M53.18,50.81 L81.11,50.81 M55.12,52.77 L80.46,52.66 M53.20,54.65 L80.78,54.30 M58.63,56.70 L79.93,56.30 M59.99,58.23 L77.27,58.29 M57.61,60.57 L78.57,60.23 M58.56,62.03 L78.93,62.24 M59.02,63.99 L77.39,64.08 M51.59,66.01 L82.68,65.75 M52.80,67.80 L80.00,67.85 M54.57,69.53 L80.96,69.80 M55.85,71.36 L81.36,70.89 M51.67,73.50 L78.64,73.30 M54.74,75.05 L83.31,75.53 M58.04,77.11 L80.08,76.63 M55.79,78.79 L76.46,78.70" stroke="#3d3b3c" stroke-width="3.0" stroke-linecap="round" fill="none" stroke-opacity="1"/>
<path d="M95.49,40.83 L112.80,40.68 M94.41,43.03 L114.70,42.74 M92.35,44.81 L115.86,44.42 M90.78,46.73 L117.77,47.09 M95.43,48.39 L116.42,48.19 M87.24,50.24 L121.05,50.08 M90.32,52.11 L113.30,52.15 M89.03,53.82 L121.09,53.56 M91.49,55.86 L112.34,55.44 M94.93,57.73 L114.15,57.99 M93.76,59.33 L114.21,59.90 M95.55,61.40 L119.85,61.46 M91.06,63.07 L116.54,63.51 M91.41,64.82 L113.84,65.29 M94.99,66.78 L117.16,67.16 M93.41,68.41 L116.93,68.40 M93.19,70.65 L119.81,70.18 M95.09,72.51 L118.52,72.45 M91.44,74.16 L116.65,74.16 M89.71,75.91 L119.44,76.34 M92.51,77.93 L120.62,77.96" stroke="#9DCDC9" stroke-width="3.0" stroke-linecap="round" fill="none" stroke-opacity="1"/>
<path d="M17.11,82.74 L43.77,82.93 M20.50,84.37 L47.97,85.00 M17.29,86.81 L46.49,86.48 M22.35,88.43 L44.36,88.00 M20.58,90.21 L40.93,90.44 M20.90,92.19 L47.98,92.13 M17.66,94.10 L48.27,93.85 M21.32,95.85 L40.84,96.15 M18.48,97.54 L41.52,98.00 M22.72,99.19 L47.69,99.13 M23.48,101.33 L44.72,101.06 M19.47,103.01 L45.16,103.18 M20.14,105.05 L40.61,105.37 M22.53,106.89 L39.85,106.45 M22.56,108.87 L40.08,108.70 M21.28,110.67 L46.69,110.55 M17.52,112.53 L47.98,112.81 M15.80,114.11 L41.52,113.81 M17.60,116.23 L41.80,115.55 M20.41,117.98 L48.15,117.68 M22.74,119.69 L39.94,120.19 M17.73,121.59 L47.86,121.06" stroke="#ADADAD" stroke-width="3.0" stroke-linecap="round" fill="none" stroke-opacity="1"/>
<path d="M50.42,83.16 L65.86,82.88 M49.60,85.30 L64.43,85.35 M52.97,86.89 L65.29,86.64 M50.12,88.51 L65.85,89.11 M53.28,90.68 L62.47,90.20 M50.78,92.46 L63.34,92.68 M53.52,94.20 L65.94,94.31 M51.72,95.94 L65.50,95.55 M53.79,97.81 L62.19,97.58 M53.66,99.83 L63.60,99.95 M51.73,101.48 L64.37,101.35 M50.06,103.42 L64.89,102.78 M49.51,104.92 L63.34,105.09 M51.56,107.17 L64.71,106.57 M51.27,108.77 L65.38,108.47 M51.00,110.40 L62.76,110.57 M53.64,112.07 L65.87,112.06 M52.97,113.99 L63.40,113.98" stroke="#E6B65C" stroke-width="3.0" stroke-linecap="round" fill="none" stroke-opacity="1"/>
<path d="M71.92,83.43 L82.42,83.70 M72.49,84.79 L81.55,85.04 M73.47,87.14 L82.87,86.51 M71.18,88.74 L84.81,88.79 M68.98,90.40 L84.95,90.95 M72.61,92.53 L85.23,91.99 M71.90,93.87 L85.39,94.54 M69.93,96.28 L84.96,96.36 M70.32,97.83 L81.37,97.99 M69.91,99.74 L81.46,100.09 M73.23,101.36 L84.56,101.11 M69.62,103.15 L85.68,103.37 M68.94,104.99 L82.73,104.90 M72.87,106.79 L83.68,106.89 M72.32,109.01 L85.72,108.25 M72.53,110.25 L81.93,110.83 M70.69,112.07 L83.21,111.91 M69.79,114.00 L81.40,114.44" stroke="#3d3b3c" stroke-width="3.0" stroke-linecap="round" fill="none" stroke-opacity="1"/>
<path d="M91.08,82.89 L99.31,82.66 M87.59,84.67 L100.02,84.95 M89.23,86.34 L99.54,86.78 M90.80,88.29 L101.11,88.44 M88.44,90.23 L100.50,89.82 M91.13,92.05 L99.91,91.68 M88.00,93.81 L99.41,93.57 M88.00,95.50 L102.07,95.21 M91.78,97.03 L100.34,97.36 M89.17,99.24 L98.83,99.01 M90.43,100.97 L99.86,101.26 M87.71,102.63 L101.34,102.37 M90.18,104.59 L102.54,104.38 M88.10,106.03 L100.02,105.84 M89.72,107.76 L102.33,108.30 M90.66,109.89 L102.88,109.24 M89.05,111.58 L98.95,111.32 M89.25,113.08 L101.22,113.80" stroke="#9DCDC9" stroke-width="3.0" stroke-linecap="round" fill="none" stroke-opacity="1"/>
<path d="M108.11,83.48 L121.36,82.96 M109.04,84.88 L120.42,85.15 M106.85,86.64 L120.12,86.49 M108.55,88.43 L118.39,88.38 M109.44,90.46 L117.85,90.31 M110.98,92.39 L121.82,91.96 M107.32,93.82 L121.51,94.25 M107.48,95.77 L119.47,95.56 M109.09,97.18 L121.75,97.15 M109.68,99.09 L120.14,99.29 M108.68,101.14 L120.71,101.16 M107.76,102.74 L119.50,103.10 M109.89,104.77 L120.76,104.10 M108.52,106.03 L118.69,106.23 M106.85,108.15 L119.08,108.07 M110.54,109.87 L120.65,109.85 M109.23,111.72 L120.02,111.96 M108.77,113.01 L119.10,113.47" stroke="#ADADAD" stroke-width="3.0" stroke-linecap="round" fill="none" stroke-opacity="1"/>
<path d="M17.53,124.31 L39.64,124.74 M16.34,126.54 L45.67,125.95 M21.03,127.91 L43.88,127.93 M17.24,129.40 L40.75,129.38 M15.79,131.29 L45.51,131.75 M18.82,132.90 L46.80,133.54 M16.15,134.67 L42.53,134.91 M18.47,136.45 L41.93,136.60 M23.22,137.94 L42.85,137.72" stroke="#E6B65C" stroke-width="3.0" stroke-linecap="round" fill="none" stroke-opacity="1"/>
<path d="M52.44,122.13 L78.63,122.72 M48.44,124.29 L77.49,123.63 M53.24,125.48 L76.50,125.63 M54.55,127.59 L77.94,127.11 M50.47,129.16 L80.93,129.58 M53.56,130.79 L75.11,131.10 M49.27,132.66 L79.35,132.79 M52.08,134.12 L81.13,133.97 M50.85,135.78 L74.81,136.35" stroke="#9DCDC9" stroke-width="3.0" stroke-linecap="round" fill="none" stroke-opacity="1"/>
<path d="M84.94,119.69 L85.02,138.05 M85.98,118.29 L86.31,136.58 M87.02,120.00 L87.04,139.08 M88.06,118.76 L88.52,138.73 M89.11,121.31 L89.47,139.52 M90.15,119.81 L89.93,138.23 M91.19,120.08 L91.38,137.94 M92.23,120.03 L92.50,139.18 M93.27,121.26 L93.39,135.98 M94.31,117.67 L93.95,139.67 M95.36,121.10 L95.22,138.53" stroke="#3d3b3c" stroke-width="1.7" stroke-linecap="round" fill="none" stroke-opacity="1"/>
<path d="M97.46,119.42 L97.88,137.30 M98.47,119.47 L98.55,137.49 M99.47,118.41 L99.60,137.48 M100.48,120.69 L100.28,139.04 M101.49,118.06 L101.68,136.36 M102.49,117.88 L102.96,135.72 M103.50,120.17 L103.16,137.09 M104.51,117.78 L104.07,137.41 M105.51,118.44 L105.04,138.49 M106.52,119.46 L106.86,137.74 M107.53,119.67 L107.53,137.00" stroke="#E6B65C" stroke-width="1.7" stroke-linecap="round" fill="none" stroke-opacity="1"/>
<path d="M109.83,119.25 L110.00,136.69 M110.82,118.01 L110.70,139.10 M111.82,118.50 L112.01,136.11 M112.81,119.73 L112.97,137.06 M113.81,118.02 L113.47,137.50 M114.80,120.87 L115.12,138.92 M115.79,117.76 L115.63,136.58 M116.79,118.99 L116.31,136.00 M117.78,117.71 L117.79,135.72 M118.78,117.82 L119.22,135.45 M119.77,117.90 L119.40,137.56 M120.76,118.65 L120.43,136.82" stroke="#9DCDC9" stroke-width="1.7" stroke-linecap="round" fill="none" stroke-opacity="1"/>
<path d="M17.69,141.24 L42.80,141.48 M17.05,142.62 L46.77,142.56 M21.83,144.56 L47.64,144.25 M18.00,146.44 L45.01,146.35 M15.56,147.73 L46.37,148.31 M22.49,149.84 L41.75,149.89 M23.71,151.20 L41.85,151.69 M19.68,153.08 L42.19,152.98 M18.61,154.64 L45.03,154.37" stroke="#3d3b3c" stroke-width="3.0" stroke-linecap="round" fill="none" stroke-opacity="1"/>
<path d="M49.11,139.76 L74.56,140.11 M50.50,141.51 L78.34,141.53 M50.77,143.00 L74.71,143.34 M49.20,145.01 L78.62,144.62 M50.41,146.54 L73.69,146.11 M52.87,147.96 L74.88,148.31 M49.24,149.61 L77.65,149.56 M56.49,151.85 L77.09,151.49" stroke="#ADADAD" stroke-width="3.0" stroke-linecap="round" fill="none" stroke-opacity="1"/>
<path d="M89.25,145.07 L105.60,144.59 M89.38,146.84 L105.57,146.79 M88.60,148.14 L99.61,148.14 M87.70,149.84 L103.97,149.71 M88.60,151.85 L100.37,151.39 M89.01,153.19 L102.57,153.31" stroke="#ADADAD" stroke-width="3.0" stroke-linecap="round" fill="none" stroke-opacity="1"/>
<path d="M15.26,158.65 L15.18,167.14 M16.27,158.81 L16.43,167.27 M17.28,158.46 L16.79,166.85 M18.29,158.54 L17.93,167.41 M19.30,159.37 L19.59,167.46 M20.31,159.77 L20.70,167.56 M21.32,159.49 L20.85,166.78 M22.33,158.83 L22.13,166.86 M23.34,158.39 L23.10,167.46 M24.35,159.46 L24.27,167.39 M25.36,159.18 L25.15,166.26 M26.37,158.06 L26.70,166.21 M27.38,159.46 L27.11,167.06 M28.39,158.26 L28.35,167.47 M29.40,158.10 L29.63,166.72 M30.41,158.00 L30.40,166.46 M31.42,159.70 L31.71,167.15 M32.43,158.83 L32.43,166.89 M33.44,158.02 L33.17,167.77 M34.45,158.74 L34.49,167.35 M35.46,159.21 L35.28,167.29 M36.47,158.93 L36.75,166.25 M37.48,159.21 L37.20,166.50 M38.49,158.16 L38.11,167.87" stroke="#E6B65C" stroke-width="1.7" stroke-linecap="round" fill="none" stroke-opacity="1"/>
<path d="M43.10,158.72 L43.56,166.29 M44.11,158.29 L44.31,166.37 M45.12,158.99 L44.65,167.60 M46.13,158.47 L45.88,166.41 M47.14,158.69 L47.48,167.21 M48.15,159.52 L48.65,167.05 M49.16,157.86 L49.53,166.28 M50.17,158.03 L50.23,166.48 M51.18,159.54 L51.22,167.42 M52.19,159.40 L52.00,166.61 M53.20,157.90 L53.17,166.04 M54.21,159.62 L54.52,167.54 M55.22,159.27 L54.73,166.08 M56.22,158.44 L56.48,167.71 M57.23,158.41 L57.11,166.00 M58.24,159.20 L57.98,166.18 M59.25,158.79 L59.28,166.01 M60.26,158.42 L60.55,167.31 M61.27,158.10 L61.33,166.67 M62.28,158.78 L62.44,167.57 M63.29,159.47 L63.12,167.21 M64.30,159.45 L64.08,166.72 M65.31,157.76 L65.16,166.39 M66.32,158.62 L66.45,167.30" stroke="#3d3b3c" stroke-width="1.7" stroke-linecap="round" fill="none" stroke-opacity="1"/>
<path d="M70.20,158.59 L70.04,166.32 M71.24,158.62 L71.23,166.62 M72.28,159.11 L72.05,166.68 M73.32,158.72 L73.15,166.27 M74.36,159.45 L74.73,166.10 M75.40,159.92 L75.14,167.07 M76.44,159.56 L76.14,166.47 M77.48,159.46 L77.82,165.95 M78.52,158.65 L78.03,166.96 M79.56,159.98 L79.79,167.09 M80.60,159.21 L80.63,166.44 M81.64,159.71 L81.44,166.43 M82.68,158.47 L83.10,166.64 M83.72,158.53 L83.85,166.28 M84.76,158.55 L84.95,167.12 M85.80,159.04 L85.78,166.77 M86.84,158.45 L86.93,166.25 M87.88,159.21 L88.19,166.88 M88.92,159.71 L88.51,166.53 M89.96,158.53 L89.54,167.21 M91.00,159.40 L90.70,166.53 M92.04,159.86 L92.33,166.38 M93.08,159.70 L93.10,166.29" stroke="#9DCDC9" stroke-width="1.7" stroke-linecap="round" fill="none" stroke-opacity="1"/>
<path d="M98.04,159.22 L98.06,165.88 M99.08,158.93 L99.57,166.56 M100.12,158.55 L99.88,166.99 M101.16,158.50 L100.93,166.68 M102.20,158.23 L102.01,166.68 M103.24,159.04 L102.81,166.89 M104.28,158.40 L104.17,166.30 M105.32,159.32 L105.23,165.85 M106.36,158.22 L106.61,165.98 M107.40,158.73 L107.20,166.10 M108.44,159.64 L108.73,165.79 M109.48,159.71 L109.52,166.84 M110.52,159.32 L110.41,165.85 M111.56,158.28 L111.16,166.15 M112.60,159.27 L112.55,167.23 M113.64,158.88 L113.62,167.04 M114.68,158.91 L115.07,166.60 M115.72,159.55 L115.46,165.69 M116.76,158.09 L116.37,166.59 M117.80,159.27 L117.42,166.79 M118.83,158.54 L119.07,166.54 M119.87,158.85 L120.05,166.72 M120.91,158.12 L121.10,166.88" stroke="#ADADAD" stroke-width="1.7" stroke-linecap="round" fill="none" stroke-opacity="1"/>
</g>
<circle cx="109.26" cy="145.11" r="3.29" fill="#E6B65C"/>
<circle cx="117.77" cy="143.67" r="3.29" fill="#3d3b3c"/>
<circle cx="111.08" cy="153.34" r="3.29" fill="#9DCDC9"/>
<circle cx="118.89" cy="151.99" r="3.29" fill="#ADADAD"/>
</g>
<g transform="matrix(0.99902 0.06487 -0.06312 0.99901 916.31 247.27)" font-family="'Liberation Sans','DejaVu Sans',sans-serif">
<rect x="0" y="0" width="133.4" height="175.5" fill="#fff"/>
<rect x="0.65" y="0.65" width="132.1" height="174.2" fill="none" stroke="#303030" stroke-width="1.3"/>
<rect x="5.1" y="4.9" width="123.2" height="165.7" fill="none" stroke="#303030" stroke-width="1.15"/>
<g transform="translate(11.63,11.37) rotate(1.38)">
<rect x="0.8" y="-5.00" width="111.22" height="5.00" fill="url(#hstripe)"/>
<text x="2.4" y="-1.0" font-size="3.60" font-weight="700" fill="#222" textLength="21.43" lengthAdjust="spacingAndGlyphs">sweet like honey</text>
<text x="53.41" y="-0.9" font-size="5.04" font-style="italic" font-weight="700" fill="#1a1a1a" text-anchor="middle" textLength="20.31" lengthAdjust="spacingAndGlyphs">Adorably Amy</text>
<text x="73.33" y="-1.4" font-size="2.88" fill="#aaa" text-anchor="middle" textLength="11.28" lengthAdjust="spacingAndGlyphs">designs</text>
<text x="110.82" y="-1.0" font-size="3.60" font-weight="700" fill="#222" text-anchor="end" textLength="22.56" lengthAdjust="spacingAndGlyphs">circle grid pieces</text>
<rect x="0" y="-0.1" width="112.82" height="0.95" fill="#333"/>
</g>
<polygon points="12.98,13.54 122.28,15.97 120.58,90.57 11.73,86.90" fill="url(#gGold)"/>
<polygon points="10.93,90.76 120.23,93.20 119.00,166.91 9.99,163.59" fill="url(#gBlack)"/>
<circle cx="38.59" cy="40.46" r="24.23" fill="none" stroke="#F2764F" stroke-width="0.75"/>
<circle cx="78.92" cy="34.38" r="16.79" fill="none" stroke="#F2764F" stroke-width="0.75"/>
<circle cx="106.11" cy="53.40" r="15.06" fill="none" stroke="#F2764F" stroke-width="0.75"/>
<circle cx="73.74" cy="67.63" r="15.06" fill="none" stroke="#F2764F" stroke-width="0.75"/>
<circle cx="23.73" cy="73.99" r="12.12" fill="none" stroke="#F2764F" stroke-width="0.75"/>
<circle cx="47.76" cy="75.90" r="11.77" fill="none" stroke="#F2764F" stroke-width="0.75"/>
<circle cx="97.34" cy="79.09" r="10.04" fill="none" stroke="#F2764F" stroke-width="0.75"/>
<circle cx="103.07" cy="24.49" r="7.79" fill="none" stroke="#F2764F" stroke-width="0.75"/>
<circle cx="115.18" cy="32.37" r="6.40" fill="none" stroke="#F2764F" stroke-width="0.75"/>
<circle cx="114.03" cy="74.54" r="6.40" fill="none" stroke="#F2764F" stroke-width="0.75"/>
<circle cx="18.20" cy="19.26" r="4.67" fill="none" stroke="#F2764F" stroke-width="0.75"/>
<circle cx="61.08" cy="20.81" r="4.67" fill="none" stroke="#F2764F" stroke-width="0.75"/>
<circle cx="116.71" cy="21.01" r="3.81" fill="none" stroke="#F2764F" stroke-width="0.75"/>
<circle cx="111.95" cy="85.59" r="4.33" fill="none" stroke="#F2764F" stroke-width="0.75"/>
<circle cx="36.83" cy="116.80" r="24.23" fill="none" stroke="#C62B2B" stroke-width="0.75"/>
<circle cx="77.16" cy="110.72" r="16.79" fill="none" stroke="#C62B2B" stroke-width="0.75"/>
<circle cx="104.35" cy="129.74" r="15.06" fill="none" stroke="#C62B2B" stroke-width="0.75"/>
<circle cx="71.98" cy="143.97" r="15.06" fill="none" stroke="#C62B2B" stroke-width="0.75"/>
<circle cx="21.97" cy="150.34" r="12.12" fill="none" stroke="#C62B2B" stroke-width="0.75"/>
<circle cx="46.00" cy="152.24" r="11.77" fill="none" stroke="#C62B2B" stroke-width="0.75"/>
<circle cx="95.58" cy="155.43" r="10.04" fill="none" stroke="#C62B2B" stroke-width="0.75"/>
<circle cx="101.31" cy="100.84" r="7.79" fill="none" stroke="#C62B2B" stroke-width="0.75"/>
<circle cx="113.41" cy="108.71" r="6.40" fill="none" stroke="#C62B2B" stroke-width="0.75"/>
<circle cx="112.27" cy="150.89" r="6.40" fill="none" stroke="#C62B2B" stroke-width="0.75"/>
<circle cx="16.43" cy="95.61" r="4.67" fill="none" stroke="#C62B2B" stroke-width="0.75"/>
<circle cx="59.32" cy="97.15" r="4.67" fill="none" stroke="#C62B2B" stroke-width="0.75"/>
<circle cx="114.95" cy="97.35" r="3.81" fill="none" stroke="#C62B2B" stroke-width="0.75"/>
<circle cx="110.19" cy="161.93" r="4.33" fill="none" stroke="#C62B2B" stroke-width="0.75"/>
</g>
<g transform="matrix(0.99772 -0.09212 0.07002 0.98718 755.88 264.58)" font-family="'Liberation Sans','DejaVu Sans',sans-serif">
<rect x="0" y="0" width="133.4" height="175.5" fill="#fff"/>
<rect x="0.65" y="0.65" width="132.1" height="174.2" fill="none" stroke="#303030" stroke-width="1.3"/>
<rect x="5.1" y="4.9" width="123.2" height="165.7" fill="none" stroke="#303030" stroke-width="1.15"/>
<g transform="translate(10.60,10.81) rotate(1.06)">
<rect x="0.8" y="-5.00" width="111.03" height="5.00" fill="url(#hstripe)"/>
<text x="2.4" y="-1.0" font-size="3.60" font-weight="700" fill="#222" textLength="21.40" lengthAdjust="spacingAndGlyphs">sweet like honey</text>
<text x="53.31" y="-0.9" font-size="5.04" font-style="italic" font-weight="700" fill="#1a1a1a" text-anchor="middle" textLength="20.27" lengthAdjust="spacingAndGlyphs">Adorably Amy</text>
<text x="73.21" y="-1.4" font-size="2.88" fill="#aaa" text-anchor="middle" textLength="11.26" lengthAdjust="spacingAndGlyphs">designs</text>
<text x="110.63" y="-1.0" font-size="3.60" font-weight="700" fill="#222" text-anchor="end" textLength="22.53" lengthAdjust="spacingAndGlyphs">square grid pieces</text>
<rect x="0" y="-0.1" width="112.63" height="0.95" fill="#333"/>
</g>
<polygon points="12.64,13.98 121.74,16.62 121.28,89.86 11.23,88.36" fill="url(#gGold)"/>
<polygon points="12.49,90.23 121.90,93.43 120.95,168.73 11.95,164.69" fill="url(#gBlack)"/>
<line x1="12.64" y1="13.98" x2="121.74" y2="16.62" stroke="#F26B47" stroke-width="0.7"/>
<line x1="121.74" y1="16.62" x2="121.28" y2="89.86" stroke="#F26B47" stroke-width="0.7"/>
<line x1="11.23" y1="88.36" x2="12.64" y2="13.98" stroke="#F26B47" stroke-width="0.7"/>
<line x1="53.67" y1="15.18" x2="53.46" y2="55.13" stroke="#F26B47" stroke-width="0.7"/>
<line x1="90.90" y1="16.02" x2="90.68" y2="48.79" stroke="#F26B47" stroke-width="0.7"/>
<line x1="90.68" y1="48.79" x2="121.79" y2="50.46" stroke="#F26B47" stroke-width="0.7"/>
<line x1="53.46" y1="55.13" x2="12.73" y2="54.66" stroke="#F26B47" stroke-width="0.7"/>
<line x1="45.31" y1="55.07" x2="45.15" y2="87.14" stroke="#F26B47" stroke-width="0.7"/>
<line x1="45.31" y1="55.07" x2="65.91" y2="55.77" stroke="#F26B47" stroke-width="0.7"/>
<line x1="66.21" y1="51.41" x2="66.10" y2="77.70" stroke="#F26B47" stroke-width="0.7"/>
<line x1="66.21" y1="51.41" x2="90.92" y2="52.84" stroke="#F26B47" stroke-width="0.7"/>
<line x1="91.20" y1="48.84" x2="91.16" y2="79.16" stroke="#F26B47" stroke-width="0.7"/>
<line x1="45.84" y1="77.21" x2="121.38" y2="81.11" stroke="#F26B47" stroke-width="0.7"/>
<line x1="57.08" y1="77.74" x2="57.25" y2="87.74" stroke="#F26B47" stroke-width="0.7"/>
<line x1="68.32" y1="78.26" x2="68.47" y2="88.44" stroke="#F26B47" stroke-width="0.7"/>
<line x1="79.55" y1="78.96" x2="79.71" y2="88.96" stroke="#F26B47" stroke-width="0.7"/>
<line x1="90.79" y1="79.48" x2="90.96" y2="89.31" stroke="#F26B47" stroke-width="0.7"/>
<line x1="101.15" y1="80.09" x2="101.34" y2="89.76" stroke="#F26B47" stroke-width="0.7"/>
<line x1="111.52" y1="80.71" x2="111.72" y2="90.20" stroke="#F26B47" stroke-width="0.7"/>
<line x1="45.15" y1="87.14" x2="121.28" y2="89.86" stroke="#F26B47" stroke-width="0.7"/>
<line x1="12.46" y1="90.58" x2="121.57" y2="93.22" stroke="#C62B2B" stroke-width="0.7"/>
<line x1="121.57" y1="93.22" x2="121.11" y2="166.46" stroke="#C62B2B" stroke-width="0.7"/>
<line x1="11.06" y1="164.96" x2="12.46" y2="90.58" stroke="#C62B2B" stroke-width="0.7"/>
<line x1="53.49" y1="91.78" x2="53.29" y2="131.73" stroke="#C62B2B" stroke-width="0.7"/>
<line x1="90.73" y1="92.62" x2="90.51" y2="125.39" stroke="#C62B2B" stroke-width="0.7"/>
<line x1="90.51" y1="125.39" x2="121.62" y2="127.06" stroke="#C62B2B" stroke-width="0.7"/>
<line x1="53.29" y1="131.73" x2="12.56" y2="131.26" stroke="#C62B2B" stroke-width="0.7"/>
<line x1="45.14" y1="131.67" x2="44.97" y2="163.74" stroke="#C62B2B" stroke-width="0.7"/>
<line x1="45.14" y1="131.67" x2="65.74" y2="132.37" stroke="#C62B2B" stroke-width="0.7"/>
<line x1="66.04" y1="128.01" x2="65.93" y2="154.30" stroke="#C62B2B" stroke-width="0.7"/>
<line x1="66.04" y1="128.01" x2="90.75" y2="129.44" stroke="#C62B2B" stroke-width="0.7"/>
<line x1="91.03" y1="125.44" x2="90.98" y2="155.76" stroke="#C62B2B" stroke-width="0.7"/>
<line x1="45.67" y1="153.81" x2="121.20" y2="157.71" stroke="#C62B2B" stroke-width="0.7"/>
<line x1="56.91" y1="154.34" x2="57.07" y2="164.35" stroke="#C62B2B" stroke-width="0.7"/>
<line x1="68.15" y1="154.86" x2="68.30" y2="165.04" stroke="#C62B2B" stroke-width="0.7"/>
<line x1="79.38" y1="155.56" x2="79.54" y2="165.57" stroke="#C62B2B" stroke-width="0.7"/>
<line x1="90.61" y1="156.08" x2="90.79" y2="165.91" stroke="#C62B2B" stroke-width="0.7"/>
<line x1="100.98" y1="156.70" x2="101.17" y2="166.36" stroke="#C62B2B" stroke-width="0.7"/>
<line x1="111.34" y1="157.31" x2="111.55" y2="166.80" stroke="#C62B2B" stroke-width="0.7"/>
<line x1="44.97" y1="163.74" x2="121.11" y2="166.46" stroke="#C62B2B" stroke-width="0.7"/>
</g>
<g transform="matrix(1.00032 -0.03568 0.03057 0.99852 765.22 446.85)" font-family="'Liberation Sans','DejaVu Sans',sans-serif">
<rect x="0" y="0" width="133.4" height="175.5" fill="#fff"/>
<rect x="0.65" y="0.65" width="132.1" height="174.2" fill="none" stroke="#303030" stroke-width="1.3"/>
<rect x="5.1" y="4.9" width="123.2" height="165.7" fill="none" stroke="#303030" stroke-width="1.15"/>
<g transform="translate(11.20,10.06) rotate(0.82)">
<rect x="0.8" y="-5.00" width="111.69" height="5.00" fill="url(#hstripe)"/>
<text x="2.4" y="-1.0" font-size="3.60" font-weight="700" fill="#222" textLength="21.53" lengthAdjust="spacingAndGlyphs">sweet like honey</text>
<text x="53.65" y="-0.9" font-size="5.04" font-style="italic" font-weight="700" fill="#1a1a1a" text-anchor="middle" textLength="20.39" lengthAdjust="spacingAndGlyphs">Adorably Amy</text>
<text x="73.64" y="-1.4" font-size="2.88" fill="#aaa" text-anchor="middle" textLength="11.33" lengthAdjust="spacingAndGlyphs">designs</text>
<text x="111.29" y="-1.0" font-size="3.60" font-weight="700" fill="#222" text-anchor="end" textLength="22.66" lengthAdjust="spacingAndGlyphs">square &amp; circle grid frames</text>
<rect x="0" y="-0.1" width="113.29" height="0.95" fill="#333"/>
</g>
<rect x="14.25" y="14.58" width="41.19" height="40.15" fill="url(#gWhite)" stroke="#D8A850" stroke-width="1.7"/>
<rect x="58.13" y="14.61" width="32.88" height="32.88" fill="url(#gWhite)" stroke="#333132" stroke-width="1.87"/>
<rect x="93.59" y="17.53" width="28.56" height="27.69" fill="url(#gWhite)" stroke="#8FC5C1" stroke-width="1.36"/>
<rect x="14.43" y="59.76" width="28.56" height="28.56" fill="url(#gWhite)" stroke="#333132" stroke-width="1.53"/>
<rect x="45.58" y="57.50" width="33.23" height="32.88" fill="url(#gWhite)" stroke="#DDAE58" stroke-width="1.4449999999999998"/>
<rect x="81.14" y="50.26" width="41.54" height="41.02" fill="url(#gWhite)" stroke="#9E9E9E" stroke-width="1.87"/>
<circle cx="35.22" cy="112.84" r="19.38" fill="url(#gWhite)" stroke="#93C8C4" stroke-width="2.0"/>
<circle cx="74.76" cy="109.92" r="15.23" fill="url(#gWhite)" stroke="#A5A5A5" stroke-width="1.9"/>
<circle cx="107.37" cy="107.10" r="12.63" fill="url(#gWhite)" stroke="#D2A554" stroke-width="1.8"/>
<circle cx="28.86" cy="151.27" r="12.81" fill="url(#gWhite)" stroke="#9E9E9E" stroke-width="1.7"/>
<circle cx="62.31" cy="149.34" r="15.23" fill="url(#gWhite)" stroke="#93C8C4" stroke-width="1.9"/>
<circle cx="102.24" cy="145.05" r="19.04" fill="url(#gWhite)" stroke="#2f2d2e" stroke-width="2.1"/>
</g>
<g transform="matrix(0.99837 -0.03049 0.02712 0.99753 930.76 435.86)" font-family="'Liberation Sans','DejaVu Sans',sans-serif">
<rect x="0" y="0" width="133.4" height="175.5" fill="#fff"/>
<rect x="0.65" y="0.65" width="132.1" height="174.2" fill="none" stroke="#303030" stroke-width="1.3"/>
<rect x="5.1" y="4.9" width="123.2" height="165.7" fill="none" stroke="#303030" stroke-width="1.15"/>
<g transform="translate(9.55,13.70) rotate(0.00)">
<rect x="0.8" y="-5.00" width="111.95" height="5.00" fill="url(#hstripe)"/>
<text x="2.4" y="-1.0" font-size="3.60" font-weight="700" fill="#222" textLength="21.57" lengthAdjust="spacingAndGlyphs">sweet like honey</text>
<text x="53.78" y="-0.9" font-size="5.04" font-style="italic" font-weight="700" fill="#1a1a1a" text-anchor="middle" textLength="20.44" lengthAdjust="spacingAndGlyphs">Adorably Amy</text>
<text x="73.81" y="-1.4" font-size="2.88" fill="#aaa" text-anchor="middle" textLength="11.36" lengthAdjust="spacingAndGlyphs">designs</text>
<text x="111.55" y="-1.0" font-size="3.60" font-weight="700" fill="#222" text-anchor="end" textLength="22.71" lengthAdjust="spacingAndGlyphs">shape pieces</text>
<rect x="0" y="-0.1" width="113.55" height="0.95" fill="#333"/>
</g>
<rect x="12.61" y="19.38" width="33.92" height="33.40" fill="#e9e9e9" stroke="#8f8f8f" stroke-width="0.3"/>
<rect x="13.63" y="20.44" width="33.40" height="32.88" fill="#F9C66D"/>
<rect x="49.80" y="20.65" width="10.38" height="10.38" fill="#e9e9e9" stroke="#8f8f8f" stroke-width="0.3"/>
<rect x="50.82" y="21.71" width="9.87" height="9.87" fill="#3A3839"/>
<rect x="48.93" y="33.13" width="11.42" height="10.90" fill="#e9e9e9" stroke="#8f8f8f" stroke-width="0.3"/>
<rect x="49.95" y="34.19" width="10.90" height="10.38" fill="#AEDCD8"/>
<rect x="51.74" y="46.18" width="8.31" height="7.44" fill="#e9e9e9" stroke="#8f8f8f" stroke-width="0.3"/>
<rect x="52.76" y="47.24" width="7.79" height="6.92" fill="#F9C66D"/>
<rect x="12.80" y="55.66" width="24.23" height="23.02" fill="#e9e9e9" stroke="#8f8f8f" stroke-width="0.3"/>
<rect x="13.82" y="56.72" width="23.71" height="22.50" fill="#AEDCD8"/>
<rect x="41.25" y="56.97" width="19.21" height="19.04" fill="#e9e9e9" stroke="#8f8f8f" stroke-width="0.3"/>
<rect x="42.26" y="58.03" width="18.69" height="18.52" fill="#3A3839"/>
<rect x="12.62" y="82.29" width="8.83" height="7.79" fill="#e9e9e9" stroke="#8f8f8f" stroke-width="0.3"/>
<rect x="13.64" y="83.36" width="8.31" height="7.27" fill="#F9C66D"/>
<rect x="25.11" y="81.80" width="8.31" height="8.31" fill="#e9e9e9" stroke="#8f8f8f" stroke-width="0.3"/>
<rect x="26.12" y="82.86" width="7.79" height="7.79" fill="#BDBDBD"/>
<rect x="40.42" y="78.84" width="10.90" height="10.38" fill="#e9e9e9" stroke="#8f8f8f" stroke-width="0.3"/>
<rect x="41.43" y="79.90" width="10.38" height="9.87" fill="#F9C66D"/>
<rect x="53.07" y="79.21" width="9.52" height="9.69" fill="#e9e9e9" stroke="#8f8f8f" stroke-width="0.3"/>
<rect x="54.09" y="80.27" width="9.00" height="9.17" fill="#BDBDBD"/>
<rect x="13.31" y="95.74" width="33.75" height="33.40" fill="#e9e9e9" stroke="#8f8f8f" stroke-width="0.3"/>
<rect x="14.33" y="96.80" width="33.23" height="32.88" fill="#3A3839"/>
<rect x="49.83" y="95.96" width="10.90" height="10.90" fill="#e9e9e9" stroke="#8f8f8f" stroke-width="0.3"/>
<rect x="50.84" y="97.02" width="10.38" height="10.38" fill="#AEDCD8"/>
<rect x="49.97" y="109.84" width="10.56" height="10.56" fill="#e9e9e9" stroke="#8f8f8f" stroke-width="0.3"/>
<rect x="50.99" y="110.90" width="10.04" height="10.04" fill="#F9C66D"/>
<rect x="52.78" y="122.89" width="7.79" height="7.62" fill="#e9e9e9" stroke="#8f8f8f" stroke-width="0.3"/>
<rect x="53.79" y="123.95" width="7.27" height="7.10" fill="#3A3839"/>
<rect x="13.66" y="132.54" width="23.88" height="23.02" fill="#e9e9e9" stroke="#8f8f8f" stroke-width="0.3"/>
<rect x="14.68" y="133.61" width="23.37" height="22.50" fill="#F9C66D"/>
<rect x="40.91" y="133.31" width="19.56" height="19.04" fill="#e9e9e9" stroke="#8f8f8f" stroke-width="0.3"/>
<rect x="41.92" y="134.37" width="19.04" height="18.52" fill="#BDBDBD"/>
<rect x="13.15" y="158.30" width="8.31" height="8.31" fill="#e9e9e9" stroke="#8f8f8f" stroke-width="0.3"/>
<rect x="14.16" y="159.36" width="7.79" height="7.79" fill="#BDBDBD"/>
<rect x="25.81" y="158.16" width="8.31" height="8.31" fill="#e9e9e9" stroke="#8f8f8f" stroke-width="0.3"/>
<rect x="26.82" y="159.23" width="7.79" height="7.79" fill="#AEDCD8"/>
<rect x="40.43" y="154.67" width="11.08" height="10.56" fill="#e9e9e9" stroke="#8f8f8f" stroke-width="0.3"/>
<rect x="41.45" y="155.73" width="10.56" height="10.04" fill="#BDBDBD"/>
<rect x="53.93" y="156.44" width="9.17" height="8.83" fill="#e9e9e9" stroke="#8f8f8f" stroke-width="0.3"/>
<rect x="54.95" y="157.50" width="8.65" height="8.31" fill="#F9C66D"/>
<circle cx="82.17" cy="33.61" r="15.92" fill="#ddd" stroke="#999" stroke-width="0.3"/>
<circle cx="82.67" cy="34.15" r="15.58" fill="#3A3839"/>
<circle cx="108.70" cy="27.14" r="10.21" fill="#ddd" stroke="#999" stroke-width="0.3"/>
<circle cx="109.20" cy="27.67" r="9.87" fill="#BDBDBD"/>
<circle cx="105.97" cy="50.82" r="11.25" fill="#ddd" stroke="#999" stroke-width="0.3"/>
<circle cx="106.48" cy="51.36" r="10.90" fill="#AEDCD8"/>
<circle cx="82.50" cy="66.07" r="14.19" fill="#ddd" stroke="#999" stroke-width="0.3"/>
<circle cx="83.01" cy="66.60" r="13.85" fill="#F9C66D"/>
<circle cx="109.76" cy="70.89" r="7.62" fill="#ddd" stroke="#999" stroke-width="0.3"/>
<circle cx="110.27" cy="71.43" r="7.27" fill="#BDBDBD"/>
<circle cx="68.10" cy="85.75" r="3.46" fill="#ddd" stroke="#999" stroke-width="0.3"/>
<circle cx="68.60" cy="86.29" r="3.12" fill="#F9C66D"/>
<circle cx="76.95" cy="85.50" r="3.81" fill="#ddd" stroke="#999" stroke-width="0.3"/>
<circle cx="77.45" cy="86.04" r="3.46" fill="#BDBDBD"/>
<circle cx="85.96" cy="85.43" r="3.81" fill="#ddd" stroke="#999" stroke-width="0.3"/>
<circle cx="86.47" cy="85.97" r="3.46" fill="#AEDCD8"/>
<circle cx="98.72" cy="81.83" r="6.06" fill="#ddd" stroke="#999" stroke-width="0.3"/>
<circle cx="99.22" cy="82.37" r="5.71" fill="#AEDCD8"/>
<circle cx="113.21" cy="84.36" r="4.15" fill="#ddd" stroke="#999" stroke-width="0.3"/>
<circle cx="113.71" cy="84.89" r="3.81" fill="#F9C66D"/>
<circle cx="82.70" cy="109.97" r="16.27" fill="#ddd" stroke="#999" stroke-width="0.3"/>
<circle cx="83.20" cy="110.51" r="15.92" fill="#AEDCD8"/>
<circle cx="109.72" cy="104.38" r="9.87" fill="#ddd" stroke="#999" stroke-width="0.3"/>
<circle cx="110.22" cy="104.91" r="9.52" fill="#3A3839"/>
<circle cx="106.82" cy="128.06" r="11.25" fill="#ddd" stroke="#999" stroke-width="0.3"/>
<circle cx="107.33" cy="128.59" r="10.90" fill="#F9C66D"/>
<circle cx="83.01" cy="142.95" r="14.54" fill="#ddd" stroke="#999" stroke-width="0.3"/>
<circle cx="83.52" cy="143.48" r="14.19" fill="#BDBDBD"/>
<circle cx="110.62" cy="147.61" r="7.62" fill="#ddd" stroke="#999" stroke-width="0.3"/>
<circle cx="111.13" cy="148.14" r="7.27" fill="#AEDCD8"/>
<circle cx="68.79" cy="162.46" r="3.46" fill="#ddd" stroke="#999" stroke-width="0.3"/>
<circle cx="69.29" cy="163.00" r="3.12" fill="#3A3839"/>
<circle cx="77.46" cy="162.38" r="3.81" fill="#ddd" stroke="#999" stroke-width="0.3"/>
<circle cx="77.96" cy="162.92" r="3.46" fill="#AEDCD8"/>
<circle cx="86.65" cy="162.14" r="3.81" fill="#ddd" stroke="#999" stroke-width="0.3"/>
<circle cx="87.16" cy="162.68" r="3.46" fill="#BDBDBD"/>
<circle cx="99.92" cy="158.73" r="6.06" fill="#ddd" stroke="#999" stroke-width="0.3"/>
<circle cx="100.43" cy="159.27" r="5.71" fill="#3A3839"/>
<circle cx="113.74" cy="160.37" r="4.33" fill="#ddd" stroke="#999" stroke-width="0.3"/>
<circle cx="114.25" cy="160.90" r="3.98" fill="#BDBDBD"/>
</g>
<g transform="matrix(0.99772 -0.01622 0.01874 0.99852 720.86 633.39)" font-family="'Liberation Sans','DejaVu Sans',sans-serif">
<rect x="0" y="0" width="133.4" height="175.5" fill="#fff"/>
<rect x="0.65" y="0.65" width="132.1" height="174.2" fill="none" stroke="#303030" stroke-width="1.3"/>
<rect x="5.1" y="4.9" width="123.2" height="165.7" fill="none" stroke="#303030" stroke-width="1.15"/>
<g transform="translate(10.06,13.99) rotate(-0.82)">
<rect x="0.8" y="-5.00" width="112.07" height="5.00" fill="url(#hstripe)"/>
<text x="2.4" y="-1.0" font-size="3.60" font-weight="700" fill="#222" textLength="21.60" lengthAdjust="spacingAndGlyphs">sweet like honey</text>
<text x="53.83" y="-0.9" font-size="5.04" font-style="italic" font-weight="700" fill="#1a1a1a" text-anchor="middle" textLength="20.46" lengthAdjust="spacingAndGlyphs">Adorably Amy</text>
<text x="73.88" y="-1.4" font-size="2.88" fill="#aaa" text-anchor="middle" textLength="11.37" lengthAdjust="spacingAndGlyphs">designs</text>
<text x="111.67" y="-1.0" font-size="3.60" font-weight="700" fill="#222" text-anchor="end" textLength="22.73" lengthAdjust="spacingAndGlyphs">large date numbers</text>
<rect x="0" y="-0.1" width="113.67" height="0.95" fill="#333"/>
</g>
<text transform="translate(20.24,32.67) scale(0.84,1)" text-anchor="middle" font-size="19" font-weight="700" fill="#F8C364" stroke="#d9a243" stroke-width="0.7" stroke-linejoin="round" paint-order="stroke" letter-spacing="-0.2">1</text>
<text transform="translate(35.86,32.72) scale(0.84,1)" text-anchor="middle" font-size="19" font-weight="700" fill="#343233" stroke="#222" stroke-width="0.7" stroke-linejoin="round" paint-order="stroke" letter-spacing="-0.2">2</text>
<text transform="translate(52.86,32.78) scale(0.84,1)" text-anchor="middle" font-size="19" font-weight="700" fill="#A3D8D3" stroke="#7dbab4" stroke-width="0.7" stroke-linejoin="round" paint-order="stroke" letter-spacing="-0.2">3</text>
<text transform="translate(69.68,32.83) scale(0.84,1)" text-anchor="middle" font-size="19" font-weight="700" fill="#B9B9B9" stroke="#8f8f8f" stroke-width="0.7" stroke-linejoin="round" paint-order="stroke" letter-spacing="-0.2">4</text>
<text transform="translate(88.42,32.89) scale(0.84,1)" text-anchor="middle" font-size="19" font-weight="700" fill="#F8C364" stroke="#d9a243" stroke-width="0.7" stroke-linejoin="round" paint-order="stroke" letter-spacing="-0.2">5</text>
<text transform="translate(21.55,55.72) scale(0.84,1)" text-anchor="middle" font-size="19" font-weight="700" fill="#343233" stroke="#222" stroke-width="0.7" stroke-linejoin="round" paint-order="stroke" letter-spacing="-0.2">6</text>
<text transform="translate(38.03,55.78) scale(0.84,1)" text-anchor="middle" font-size="19" font-weight="700" fill="#A3D8D3" stroke="#7dbab4" stroke-width="0.7" stroke-linejoin="round" paint-order="stroke" letter-spacing="-0.2">7</text>
<text transform="translate(53.64,55.83) scale(0.84,1)" text-anchor="middle" font-size="19" font-weight="700" fill="#B9B9B9" stroke="#8f8f8f" stroke-width="0.7" stroke-linejoin="round" paint-order="stroke" letter-spacing="-0.2">8</text>
<text transform="translate(68.38,55.88) scale(0.84,1)" text-anchor="middle" font-size="19" font-weight="700" fill="#F8C364" stroke="#d9a243" stroke-width="0.7" stroke-linejoin="round" paint-order="stroke" letter-spacing="-0.2">9</text>
<text transform="translate(87.81,55.94) scale(0.84,1)" text-anchor="middle" font-size="19" font-weight="700" fill="#343233" stroke="#222" stroke-width="0.7" stroke-linejoin="round" paint-order="stroke" letter-spacing="-0.2">10</text>
<text transform="translate(24.61,77.39) scale(0.84,1)" text-anchor="middle" font-size="19" font-weight="700" fill="#A3D8D3" stroke="#7dbab4" stroke-width="0.7" stroke-linejoin="round" paint-order="stroke" letter-spacing="-0.2">11</text>
<text transform="translate(45.08,77.46) scale(0.84,1)" text-anchor="middle" font-size="19" font-weight="700" fill="#B9B9B9" stroke="#8f8f8f" stroke-width="0.7" stroke-linejoin="round" paint-order="stroke" letter-spacing="-0.2">12</text>
<text transform="translate(65.89,77.53) scale(0.84,1)" text-anchor="middle" font-size="19" font-weight="700" fill="#F8C364" stroke="#d9a243" stroke-width="0.7" stroke-linejoin="round" paint-order="stroke" letter-spacing="-0.2">13</text>
<text transform="translate(87.58,77.60) scale(0.84,1)" text-anchor="middle" font-size="19" font-weight="700" fill="#343233" stroke="#222" stroke-width="0.7" stroke-linejoin="round" paint-order="stroke" letter-spacing="-0.2">14</text>
<text transform="translate(110.13,77.67) scale(0.84,1)" text-anchor="middle" font-size="19" font-weight="700" fill="#A3D8D3" stroke="#7dbab4" stroke-width="0.7" stroke-linejoin="round" paint-order="stroke" letter-spacing="-0.2">15</text>
<text transform="translate(26.46,99.06) scale(0.84,1)" text-anchor="middle" font-size="19" font-weight="700" fill="#B9B9B9" stroke="#8f8f8f" stroke-width="0.7" stroke-linejoin="round" paint-order="stroke" letter-spacing="-0.2">16</text>
<text transform="translate(55.43,99.16) scale(0.84,1)" text-anchor="middle" font-size="19" font-weight="700" fill="#F8C364" stroke="#d9a243" stroke-width="0.7" stroke-linejoin="round" paint-order="stroke" letter-spacing="-0.2">17</text>
<text transform="translate(83.53,99.25) scale(0.84,1)" text-anchor="middle" font-size="19" font-weight="700" fill="#343233" stroke="#222" stroke-width="0.7" stroke-linejoin="round" paint-order="stroke" letter-spacing="-0.2">18</text>
<text transform="translate(110.93,99.34) scale(0.84,1)" text-anchor="middle" font-size="19" font-weight="700" fill="#A3D8D3" stroke="#7dbab4" stroke-width="0.7" stroke-linejoin="round" paint-order="stroke" letter-spacing="-0.2">19</text>
<text transform="translate(27.26,121.07) scale(0.84,1)" text-anchor="middle" font-size="19" font-weight="700" fill="#B9B9B9" stroke="#8f8f8f" stroke-width="0.7" stroke-linejoin="round" paint-order="stroke" letter-spacing="-0.2">20</text>
<text transform="translate(55.36,121.16) scale(0.84,1)" text-anchor="middle" font-size="19" font-weight="700" fill="#F8C364" stroke="#d9a243" stroke-width="0.7" stroke-linejoin="round" paint-order="stroke" letter-spacing="-0.2">21</text>
<text transform="translate(82.42,121.25) scale(0.84,1)" text-anchor="middle" font-size="19" font-weight="700" fill="#343233" stroke="#222" stroke-width="0.7" stroke-linejoin="round" paint-order="stroke" letter-spacing="-0.2">22</text>
<text transform="translate(110.52,121.34) scale(0.84,1)" text-anchor="middle" font-size="19" font-weight="700" fill="#A3D8D3" stroke="#7dbab4" stroke-width="0.7" stroke-linejoin="round" paint-order="stroke" letter-spacing="-0.2">23</text>
<text transform="translate(27.37,143.08) scale(0.84,1)" text-anchor="middle" font-size="19" font-weight="700" fill="#B9B9B9" stroke="#8f8f8f" stroke-width="0.7" stroke-linejoin="round" paint-order="stroke" letter-spacing="-0.2">24</text>
<text transform="translate(54.60,143.17) scale(0.84,1)" text-anchor="middle" font-size="19" font-weight="700" fill="#F8C364" stroke="#d9a243" stroke-width="0.7" stroke-linejoin="round" paint-order="stroke" letter-spacing="-0.2">25</text>
<text transform="translate(82.35,143.26) scale(0.84,1)" text-anchor="middle" font-size="19" font-weight="700" fill="#343233" stroke="#222" stroke-width="0.7" stroke-linejoin="round" paint-order="stroke" letter-spacing="-0.2">26</text>
<text transform="translate(110.11,143.35) scale(0.84,1)" text-anchor="middle" font-size="19" font-weight="700" fill="#A3D8D3" stroke="#7dbab4" stroke-width="0.7" stroke-linejoin="round" paint-order="stroke" letter-spacing="-0.2">27</text>
<text transform="translate(27.65,164.74) scale(0.84,1)" text-anchor="middle" font-size="19" font-weight="700" fill="#B9B9B9" stroke="#8f8f8f" stroke-width="0.7" stroke-linejoin="round" paint-order="stroke" letter-spacing="-0.2">28</text>
<text transform="translate(55.06,164.83) scale(0.84,1)" text-anchor="middle" font-size="19" font-weight="700" fill="#F8C364" stroke="#d9a243" stroke-width="0.7" stroke-linejoin="round" paint-order="stroke" letter-spacing="-0.2">29</text>
<text transform="translate(82.81,164.92) scale(0.84,1)" text-anchor="middle" font-size="19" font-weight="700" fill="#343233" stroke="#222" stroke-width="0.7" stroke-linejoin="round" paint-order="stroke" letter-spacing="-0.2">30</text>
<text transform="translate(111.95,165.02) scale(0.84,1)" text-anchor="middle" font-size="19" font-weight="700" fill="#A3D8D3" stroke="#7dbab4" stroke-width="0.7" stroke-linejoin="round" paint-order="stroke" letter-spacing="-0.2">31</text>
<path d="M0,-28 C-12,-52 -52,-50 -52,-14 C-52,14 -20,32 0,58 C20,32 52,14 52,-14 C52,-50 12,-52 0,-28 Z" transform="translate(109.95,24.62) scale(0.1817)" fill="url(#gheart)"/>
<path d="M0,-28 C-12,-52 -52,-50 -52,-14 C-52,14 -20,32 0,58 C20,32 52,14 52,-14 C52,-50 12,-52 0,-28 Z" transform="translate(110.05,47.16) scale(0.1817)" fill="url(#gheart)"/>
</g>
<g transform="matrix(0.99902 -0.02919 0.02761 1.00049 1214.19 613.46)" font-family="'Liberation Sans','DejaVu Sans',sans-serif">
<rect x="0" y="0" width="133.4" height="175.5" fill="#fff"/>
<rect x="0.65" y="0.65" width="132.1" height="174.2" fill="none" stroke="#303030" stroke-width="1.3"/>
<rect x="5.1" y="4.9" width="123.2" height="165.7" fill="none" stroke="#303030" stroke-width="1.15"/>
<g transform="translate(10.57,12.46) rotate(-0.26)">
<rect x="0.8" y="-5.00" width="111.37" height="5.00" fill="url(#hstripe)"/>
<text x="2.4" y="-1.0" font-size="3.60" font-weight="700" fill="#222" textLength="21.46" lengthAdjust="spacingAndGlyphs">sweet like honey</text>
<text x="53.49" y="-0.9" font-size="5.04" font-style="italic" font-weight="700" fill="#1a1a1a" text-anchor="middle" textLength="20.33" lengthAdjust="spacingAndGlyphs">Adorably Amy</text>
<text x="73.43" y="-1.4" font-size="2.88" fill="#aaa" text-anchor="middle" textLength="11.30" lengthAdjust="spacingAndGlyphs">designs</text>
<text x="110.97" y="-1.0" font-size="3.60" font-weight="700" fill="#222" text-anchor="end" textLength="22.59" lengthAdjust="spacingAndGlyphs">thin grid strips</text>
<rect x="0" y="-0.1" width="112.97" height="0.95" fill="#333"/>
</g>
<polygon points="11.43,12.83 27.02,12.75 27.72,162.94 12.13,163.02" fill="url(#gGold)"/>
<polygon points="27.89,12.75 42.61,12.67 43.31,162.86 28.59,162.94" fill="url(#gBlack)"/>
<polygon points="43.48,12.67 58.21,12.59 58.91,162.78 44.18,162.86" fill="url(#gTeal)"/>
<polygon points="59.08,12.59 73.80,12.51 74.50,162.70 59.78,162.78" fill="url(#gGray)"/>
<polygon points="74.67,12.51 90.26,12.43 90.96,162.62 75.37,162.70" fill="url(#gGold)"/>
<polygon points="91.13,12.42 105.86,12.35 106.56,162.54 91.83,162.61" fill="url(#gBlack)"/>
<polygon points="106.73,12.34 122.32,12.26 123.02,162.45 107.42,162.53" fill="url(#gTeal)"/>
<polygon points="12.98,163.38 121.96,163.10 121.89,165.87 12.90,166.49" fill="url(#gmix)"/>
</g>
<g transform="matrix(0.99902 0.03698 -0.03945 0.99753 1057.87 611.12)" font-family="'Liberation Sans','DejaVu Sans',sans-serif">
<rect x="0" y="0" width="133.4" height="175.5" fill="#fff"/>
<rect x="0.65" y="0.65" width="132.1" height="174.2" fill="none" stroke="#303030" stroke-width="1.3"/>
<rect x="5.1" y="4.9" width="123.2" height="165.7" fill="none" stroke="#303030" stroke-width="1.15"/>
<g transform="translate(8.13,12.84) rotate(1.39)">
<rect x="0.8" y="-5.00" width="111.50" height="5.00" fill="url(#hstripe)"/>
<text x="2.4" y="-1.0" font-size="3.60" font-weight="700" fill="#222" textLength="21.49" lengthAdjust="spacingAndGlyphs">sweet like honey</text>
<text x="53.55" y="-0.9" font-size="5.04" font-style="italic" font-weight="700" fill="#1a1a1a" text-anchor="middle" textLength="20.36" lengthAdjust="spacingAndGlyphs">Adorably Amy</text>
<text x="73.51" y="-1.4" font-size="2.88" fill="#aaa" text-anchor="middle" textLength="11.31" lengthAdjust="spacingAndGlyphs">designs</text>
<text x="111.10" y="-1.0" font-size="3.60" font-weight="700" fill="#222" text-anchor="end" textLength="22.62" lengthAdjust="spacingAndGlyphs">fat grid strips</text>
<rect x="0" y="-0.1" width="113.10" height="0.95" fill="#333"/>
</g>
<polygon points="8.20,14.57 30.74,14.97 29.44,166.30 6.90,165.90" fill="url(#gGold)"/>
<polygon points="31.60,14.99 52.41,15.35 51.11,166.68 30.30,166.31" fill="url(#gBlack)"/>
<polygon points="53.79,15.38 74.94,15.75 73.64,167.08 52.49,166.70" fill="url(#gTeal)"/>
<polygon points="75.81,15.77 96.62,16.14 95.31,167.46 74.51,167.09" fill="url(#gGray)"/>
<polygon points="97.83,16.16 119.15,16.53 117.85,167.86 96.53,167.48" fill="url(#gGold)"/>
<polygon points="6.90,165.92 117.33,167.90 117.41,169.80 6.99,168.34" fill="url(#gmix)"/>
</g>
<g transform="matrix(0.98929 -0.07785 0.08136 0.98619 882.72 618.61)" font-family="'Liberation Sans','DejaVu Sans',sans-serif">
<rect x="0" y="0" width="133.4" height="175.5" fill="#fff"/>
<rect x="0.65" y="0.65" width="132.1" height="174.2" fill="none" stroke="#303030" stroke-width="1.3"/>
<rect x="5.1" y="4.9" width="123.2" height="165.7" fill="none" stroke="#303030" stroke-width="1.15"/>
<polygon points="11.99,28.06 124.93,26.97 124.42,133.11 10.75,132.56" fill="#fff" stroke="#e8eeee" stroke-width="0.6"/>
<rect x="11.78" y="28.57" width="112.50" height="12.30" fill="url(#hstripeB)"/>
<circle cx="16.78" cy="35.70" r="2.09" fill="#cfcfcf" stroke="#999" stroke-width="0.3"/>
<text x="20.78" y="38.16" font-size="8.86" font-style="italic" font-weight="700" fill="#111" textLength="40.50" lengthAdjust="spacingAndGlyphs">Adorably Amy</text>
<text x="62.40" y="37.43" font-size="4.43" fill="#8aa" textLength="14.62" lengthAdjust="spacingAndGlyphs">designs</text>
<circle cx="81.53" cy="35.34" r="2.09" fill="#d6d6d6" stroke="#999" stroke-width="0.3"/>
<text x="121.78" y="34.03" font-size="3.62" font-weight="700" text-anchor="end" fill="#222">sweet like honey</text>
<text x="121.78" y="37.48" font-size="3.62" font-weight="700" text-anchor="end" fill="#222">small date numbers</text>
<rect x="11.28" y="40.87" width="113.50" height="0.9" fill="#333"/>
<text transform="translate(18.70,55.46) scale(0.84,1)" text-anchor="middle" font-size="13.2" font-weight="700" fill="#F8C364" stroke="#d9a243" stroke-width="0.7" stroke-linejoin="round" paint-order="stroke" letter-spacing="-0.2">1</text>
<text transform="translate(29.70,55.80) scale(0.84,1)" text-anchor="middle" font-size="13.2" font-weight="700" fill="#343233" stroke="#222" stroke-width="0.7" stroke-linejoin="round" paint-order="stroke" letter-spacing="-0.2">2</text>
<text transform="translate(41.59,55.86) scale(0.84,1)" text-anchor="middle" font-size="13.2" font-weight="700" fill="#A3D8D3" stroke="#7dbab4" stroke-width="0.7" stroke-linejoin="round" paint-order="stroke" letter-spacing="-0.2">3</text>
<text transform="translate(53.66,55.93) scale(0.84,1)" text-anchor="middle" font-size="13.2" font-weight="700" fill="#B9B9B9" stroke="#8f8f8f" stroke-width="0.7" stroke-linejoin="round" paint-order="stroke" letter-spacing="-0.2">4</text>
<text transform="translate(66.76,56.09) scale(0.84,1)" text-anchor="middle" font-size="13.2" font-weight="700" fill="#F8C364" stroke="#d9a243" stroke-width="0.7" stroke-linejoin="round" paint-order="stroke" letter-spacing="-0.2">5</text>
<text transform="translate(79.52,56.22) scale(0.84,1)" text-anchor="middle" font-size="13.2" font-weight="700" fill="#343233" stroke="#222" stroke-width="0.7" stroke-linejoin="round" paint-order="stroke" letter-spacing="-0.2">6</text>
<text transform="translate(92.11,56.34) scale(0.84,1)" text-anchor="middle" font-size="13.2" font-weight="700" fill="#A3D8D3" stroke="#7dbab4" stroke-width="0.7" stroke-linejoin="round" paint-order="stroke" letter-spacing="-0.2">7</text>
<text transform="translate(104.32,56.77) scale(0.84,1)" text-anchor="middle" font-size="13.2" font-weight="700" fill="#B9B9B9" stroke="#8f8f8f" stroke-width="0.7" stroke-linejoin="round" paint-order="stroke" letter-spacing="-0.2">8</text>
<text transform="translate(116.56,56.86) scale(0.84,1)" text-anchor="middle" font-size="13.2" font-weight="700" fill="#F8C364" stroke="#d9a243" stroke-width="0.7" stroke-linejoin="round" paint-order="stroke" letter-spacing="-0.2">9</text>
<text transform="translate(21.43,71.29) scale(0.84,1)" text-anchor="middle" font-size="13.2" font-weight="700" fill="#343233" stroke="#222" stroke-width="0.7" stroke-linejoin="round" paint-order="stroke" letter-spacing="-0.2">10</text>
<text transform="translate(39.46,71.13) scale(0.84,1)" text-anchor="middle" font-size="13.2" font-weight="700" fill="#A3D8D3" stroke="#7dbab4" stroke-width="0.7" stroke-linejoin="round" paint-order="stroke" letter-spacing="-0.2">11</text>
<text transform="translate(57.28,71.49) scale(0.84,1)" text-anchor="middle" font-size="13.2" font-weight="700" fill="#B9B9B9" stroke="#8f8f8f" stroke-width="0.7" stroke-linejoin="round" paint-order="stroke" letter-spacing="-0.2">12</text>
<text transform="translate(75.11,71.67) scale(0.84,1)" text-anchor="middle" font-size="13.2" font-weight="700" fill="#F8C364" stroke="#d9a243" stroke-width="0.7" stroke-linejoin="round" paint-order="stroke" letter-spacing="-0.2">13</text>
<text transform="translate(93.65,71.73) scale(0.84,1)" text-anchor="middle" font-size="13.2" font-weight="700" fill="#343233" stroke="#222" stroke-width="0.7" stroke-linejoin="round" paint-order="stroke" letter-spacing="-0.2">14</text>
<text transform="translate(112.87,72.01) scale(0.84,1)" text-anchor="middle" font-size="13.2" font-weight="700" fill="#A3D8D3" stroke="#7dbab4" stroke-width="0.7" stroke-linejoin="round" paint-order="stroke" letter-spacing="-0.2">15</text>
<text transform="translate(21.38,86.73) scale(0.84,1)" text-anchor="middle" font-size="13.2" font-weight="700" fill="#B9B9B9" stroke="#8f8f8f" stroke-width="0.7" stroke-linejoin="round" paint-order="stroke" letter-spacing="-0.2">16</text>
<text transform="translate(39.91,86.96) scale(0.84,1)" text-anchor="middle" font-size="13.2" font-weight="700" fill="#F8C364" stroke="#d9a243" stroke-width="0.7" stroke-linejoin="round" paint-order="stroke" letter-spacing="-0.2">17</text>
<text transform="translate(57.75,86.97) scale(0.84,1)" text-anchor="middle" font-size="13.2" font-weight="700" fill="#343233" stroke="#222" stroke-width="0.7" stroke-linejoin="round" paint-order="stroke" letter-spacing="-0.2">18</text>
<text transform="translate(75.23,87.12) scale(0.84,1)" text-anchor="middle" font-size="13.2" font-weight="700" fill="#A3D8D3" stroke="#7dbab4" stroke-width="0.7" stroke-linejoin="round" paint-order="stroke" letter-spacing="-0.2">19</text>
<text transform="translate(94.09,87.56) scale(0.84,1)" text-anchor="middle" font-size="13.2" font-weight="700" fill="#B9B9B9" stroke="#8f8f8f" stroke-width="0.7" stroke-linejoin="round" paint-order="stroke" letter-spacing="-0.2">20</text>
<text transform="translate(112.79,87.80) scale(0.84,1)" text-anchor="middle" font-size="13.2" font-weight="700" fill="#F8C364" stroke="#d9a243" stroke-width="0.7" stroke-linejoin="round" paint-order="stroke" letter-spacing="-0.2">21</text>
<text transform="translate(20.96,102.49) scale(0.84,1)" text-anchor="middle" font-size="13.2" font-weight="700" fill="#343233" stroke="#222" stroke-width="0.7" stroke-linejoin="round" paint-order="stroke" letter-spacing="-0.2">22</text>
<text transform="translate(38.62,102.66) scale(0.84,1)" text-anchor="middle" font-size="13.2" font-weight="700" fill="#A3D8D3" stroke="#7dbab4" stroke-width="0.7" stroke-linejoin="round" paint-order="stroke" letter-spacing="-0.2">23</text>
<text transform="translate(56.46,102.66) scale(0.84,1)" text-anchor="middle" font-size="13.2" font-weight="700" fill="#B9B9B9" stroke="#8f8f8f" stroke-width="0.7" stroke-linejoin="round" paint-order="stroke" letter-spacing="-0.2">24</text>
<text transform="translate(74.44,103.20) scale(0.84,1)" text-anchor="middle" font-size="13.2" font-weight="700" fill="#F8C364" stroke="#d9a243" stroke-width="0.7" stroke-linejoin="round" paint-order="stroke" letter-spacing="-0.2">25</text>
<text transform="translate(93.11,103.80) scale(0.84,1)" text-anchor="middle" font-size="13.2" font-weight="700" fill="#343233" stroke="#222" stroke-width="0.7" stroke-linejoin="round" paint-order="stroke" letter-spacing="-0.2">26</text>
<text transform="translate(21.06,118.30) scale(0.84,1)" text-anchor="middle" font-size="13.2" font-weight="700" fill="#A3D8D3" stroke="#7dbab4" stroke-width="0.7" stroke-linejoin="round" paint-order="stroke" letter-spacing="-0.2">27</text>
<text transform="translate(39.38,118.86) scale(0.84,1)" text-anchor="middle" font-size="13.2" font-weight="700" fill="#B9B9B9" stroke="#8f8f8f" stroke-width="0.7" stroke-linejoin="round" paint-order="stroke" letter-spacing="-0.2">28</text>
<text transform="translate(57.23,118.87) scale(0.84,1)" text-anchor="middle" font-size="13.2" font-weight="700" fill="#F8C364" stroke="#d9a243" stroke-width="0.7" stroke-linejoin="round" paint-order="stroke" letter-spacing="-0.2">29</text>
<text transform="translate(75.72,119.45) scale(0.84,1)" text-anchor="middle" font-size="13.2" font-weight="700" fill="#343233" stroke="#222" stroke-width="0.7" stroke-linejoin="round" paint-order="stroke" letter-spacing="-0.2">30</text>
<text transform="translate(93.90,119.66) scale(0.84,1)" text-anchor="middle" font-size="13.2" font-weight="700" fill="#A3D8D3" stroke="#7dbab4" stroke-width="0.7" stroke-linejoin="round" paint-order="stroke" letter-spacing="-0.2">31</text>
<path d="M0,-28 C-12,-52 -52,-50 -52,-14 C-52,14 -20,32 0,58 C20,32 52,14 52,-14 C52,-50 12,-52 0,-28 Z" transform="translate(112.49,97.42) scale(0.1385)" fill="url(#gheart)"/>
<path d="M0,-28 C-12,-52 -52,-50 -52,-14 C-52,14 -20,32 0,58 C20,32 52,14 52,-14 C52,-50 12,-52 0,-28 Z" transform="translate(111.98,114.23) scale(0.1385)" fill="url(#gheart)"/>
</g>
<g transform="matrix(0.99578 -0.07460 0.08136 0.99852 1186.53 797.52)" font-family="'Liberation Sans','DejaVu Sans',sans-serif">
<rect x="0" y="0" width="133.4" height="175.5" fill="#fff"/>
<rect x="0.65" y="0.65" width="132.1" height="174.2" fill="none" stroke="#303030" stroke-width="1.3"/>
<rect x="5.1" y="4.9" width="123.2" height="165.7" fill="none" stroke="#303030" stroke-width="1.15"/>
<polygon points="11.97,39.16 124.06,39.39 122.74,136.35 8.29,137.34" fill="#fff" stroke="#e3eaea" stroke-width="0.6"/>
<rect x="12.43" y="39.89" width="111.50" height="12.40" fill="url(#hstripeB)"/>
<circle cx="17.43" cy="47.08" r="2.11" fill="#cfcfcf" stroke="#999" stroke-width="0.3"/>
<text x="21.43" y="49.56" font-size="8.93" font-style="italic" font-weight="700" fill="#111" textLength="40.14" lengthAdjust="spacingAndGlyphs">Adorably Amy</text>
<text x="62.60" y="48.81" font-size="4.46" fill="#8aa" textLength="14.50" lengthAdjust="spacingAndGlyphs">designs</text>
<circle cx="81.56" cy="46.71" r="2.11" fill="#d6d6d6" stroke="#999" stroke-width="0.3"/>
<text x="121.43" y="43.65" font-size="3.65" font-weight="700" text-anchor="end" fill="#222">sweet like honey</text>
<text x="121.43" y="47.13" font-size="3.65" font-weight="700" text-anchor="end" fill="#222">today i feel: brush</text>
<text x="121.43" y="50.60" font-size="3.65" font-weight="700" text-anchor="end" fill="#222">stroke labels</text>
<rect x="11.93" y="52.29" width="112.50" height="0.9" fill="#333"/>
<g filter="url(#rough2)">
<path d="M22.39,62.86 L59.67,62.93 M24.19,64.17 L60.44,64.25 M23.90,65.37 L61.23,66.05 M21.22,66.98 L60.52,66.87 M24.19,68.22 L62.18,67.77" stroke="#FAD08A" stroke-width="2.6" stroke-linecap="round" fill="none" stroke-opacity="0.92"/>
<path d="M72.12,63.74 L112.32,64.36 M72.83,65.23 L110.66,65.08 M73.38,66.62 L111.07,66.61 M73.77,67.50 L111.57,67.36 M73.35,69.05 L112.55,69.08" stroke="#FAD08A" stroke-width="2.6" stroke-linecap="round" fill="none" stroke-opacity="0.92"/>
<path d="M21.49,81.96 L61.17,81.82 M21.84,83.58 L58.84,82.94 M20.71,84.43 L61.15,84.61 M19.30,85.95 L60.55,85.90 M19.99,87.30 L59.16,86.62" stroke="#5a5859" stroke-width="2.6" stroke-linecap="round" fill="none" stroke-opacity="0.92"/>
<path d="M69.34,82.68 L109.09,82.86 M71.62,84.12 L108.75,84.15 M69.27,85.33 L110.04,85.76 M71.17,86.62 L108.88,86.33 M72.26,87.84 L108.65,87.51" stroke="#5a5859" stroke-width="2.6" stroke-linecap="round" fill="none" stroke-opacity="0.92"/>
<path d="M19.12,101.26 L57.78,100.72 M18.46,102.07 L59.61,101.81 M18.22,103.85 L57.88,103.75 M19.01,104.92 L58.27,104.63 M17.92,106.13 L56.71,105.67" stroke="#BFE4E0" stroke-width="2.6" stroke-linecap="round" fill="none" stroke-opacity="0.92"/>
<path d="M68.63,101.60 L108.29,101.69 M67.91,102.97 L110.01,102.72 M68.77,104.08 L107.37,104.48 M68.14,105.75 L107.19,105.32 M70.70,106.61 L107.47,106.77" stroke="#BFE4E0" stroke-width="2.6" stroke-linecap="round" fill="none" stroke-opacity="0.92"/>
<path d="M19.31,119.71 L56.76,120.01 M16.95,120.96 L56.35,121.35 M16.25,122.05 L57.95,122.49 M19.15,123.67 L57.71,123.44 M19.60,124.42 L54.85,125.14" stroke="#CBCBCB" stroke-width="2.6" stroke-linecap="round" fill="none" stroke-opacity="0.92"/>
<path d="M67.36,120.94 L106.94,120.81 M67.93,121.95 L107.08,122.14 M66.17,123.34 L108.12,123.94 M67.82,124.98 L106.52,125.13 M68.13,126.00 L107.66,125.85" stroke="#CBCBCB" stroke-width="2.6" stroke-linecap="round" fill="none" stroke-opacity="0.92"/>
</g>
<text x="43.24" y="61.56" text-anchor="middle" font-size="3.4" font-weight="700" fill="#111" textLength="23" lengthAdjust="spacingAndGlyphs">today i feel:</text>
<text x="93.41" y="62.36" text-anchor="middle" font-size="3.4" font-weight="700" fill="#111" textLength="23" lengthAdjust="spacingAndGlyphs">today i feel:</text>
<text x="41.69" y="80.51" text-anchor="middle" font-size="3.4" font-weight="700" fill="#111" textLength="23" lengthAdjust="spacingAndGlyphs">today i feel:</text>
<text x="91.86" y="81.31" text-anchor="middle" font-size="3.4" font-weight="700" fill="#111" textLength="23" lengthAdjust="spacingAndGlyphs">today i feel:</text>
<text x="40.14" y="99.46" text-anchor="middle" font-size="3.4" font-weight="700" fill="#111" textLength="23" lengthAdjust="spacingAndGlyphs">today i feel:</text>
<text x="90.31" y="100.26" text-anchor="middle" font-size="3.4" font-weight="700" fill="#111" textLength="23" lengthAdjust="spacingAndGlyphs">today i feel:</text>
<text x="38.62" y="118.07" text-anchor="middle" font-size="3.4" font-weight="700" fill="#111" textLength="23" lengthAdjust="spacingAndGlyphs">today i feel:</text>
<text x="88.75" y="119.39" text-anchor="middle" font-size="3.4" font-weight="700" fill="#111" textLength="23" lengthAdjust="spacingAndGlyphs">today i feel:</text>
</g>
<g transform="matrix(1.00032 -0.02530 0.02959 0.99951 1031.12 790.34)" font-family="'Liberation Sans','DejaVu Sans',sans-serif">
<rect x="0" y="0" width="133.4" height="175.5" fill="#fff"/>
<rect x="0.65" y="0.65" width="132.1" height="174.2" fill="none" stroke="#303030" stroke-width="1.3"/>
<rect x="5.1" y="4.9" width="123.2" height="165.7" fill="none" stroke="#303030" stroke-width="1.15"/>
<g transform="translate(11.36,13.84) rotate(-0.31)">
<rect x="0.8" y="-5.00" width="111.23" height="5.00" fill="url(#hstripe)"/>
<text x="2.4" y="-1.0" font-size="3.60" font-weight="700" fill="#222" textLength="21.44" lengthAdjust="spacingAndGlyphs">sweet like honey</text>
<text x="53.41" y="-0.9" font-size="5.04" font-style="italic" font-weight="700" fill="#1a1a1a" text-anchor="middle" textLength="20.31" lengthAdjust="spacingAndGlyphs">Adorably Amy</text>
<text x="73.34" y="-1.4" font-size="2.88" fill="#aaa" text-anchor="middle" textLength="11.28" lengthAdjust="spacingAndGlyphs">designs</text>
<text x="110.83" y="-1.0" font-size="3.60" font-weight="700" fill="#222" text-anchor="end" textLength="22.57" lengthAdjust="spacingAndGlyphs">highlighter doodles</text>
<rect x="0" y="-0.1" width="112.83" height="0.95" fill="#333"/>
</g>
<line x1="19.47" y1="17.51" x2="20.14" y2="35.53" stroke="#F8CB7E" stroke-width="1.7" stroke-opacity="0.85" stroke-linecap="round"/>
<line x1="21.37" y1="17.55" x2="22.05" y2="35.58" stroke="#F8CB7E" stroke-width="1.7" stroke-opacity="0.85" stroke-linecap="round"/>
<g transform="translate(18.52,40.69) rotate(22)"><rect x="-1.8" y="-3.8" width="3.6" height="7.6" rx="0.7" fill="#F6B94F" stroke="#3a3a3a" stroke-width="0.45"/><path d="M-1.3846153846153846,-3.8 L-0.9,-5.8 L0.9,-5.8 L1.3846153846153846,-3.8 Z" fill="#e8e8e8" stroke="#444" stroke-width="0.35"/></g>
<path d="M29.30,18.73 L32.07,18.25 L28.95,21.88 L32.60,21.27 L29.13,24.95 L33.64,24.21 L28.98,28.07 L34.90,27.12 L29.60,31.08 L34.91,30.21 L28.68,34.31 L36.31,33.10 L28.74,37.40 L36.52,36.17 L29.23,40.43" fill="none" stroke="#F8CB7E" stroke-width="1.9" stroke-linejoin="round" stroke-linecap="round" stroke-opacity="0.92"/>
<g transform="translate(30.63,40.82) rotate(22)"><rect x="-1.8" y="-3.8" width="3.6" height="7.6" rx="0.7" fill="#F6B94F" stroke="#3a3a3a" stroke-width="0.45"/><path d="M-1.3846153846153846,-3.8 L-0.9,-5.8 L0.9,-5.8 L1.3846153846153846,-3.8 Z" fill="#e8e8e8" stroke="#444" stroke-width="0.35"/></g>
<g transform="translate(45.08,20.23) rotate(-25)"><rect x="-1.8" y="-3.8" width="3.6" height="7.6" rx="0.7" fill="#1f1f1f" stroke="#3a3a3a" stroke-width="0.45"/><path d="M-1.3846153846153846,-3.8 L-0.9,-5.8 L0.9,-5.8 L1.3846153846153846,-3.8 Z" fill="#e8e8e8" stroke="#444" stroke-width="0.35"/></g>
<line x1="46.75" y1="25.12" x2="47.60" y2="43.15" stroke="#6f6f6f" stroke-width="1.8" stroke-opacity="0.85" stroke-linecap="round"/>
<line x1="48.65" y1="25.17" x2="49.50" y2="43.20" stroke="#6f6f6f" stroke-width="1.8" stroke-opacity="0.85" stroke-linecap="round"/>
<g transform="translate(57.89,19.86) rotate(-25)"><rect x="-1.8" y="-3.8" width="3.6" height="7.6" rx="0.7" fill="#1f1f1f" stroke="#3a3a3a" stroke-width="0.45"/><path d="M-1.3846153846153846,-3.8 L-0.9,-5.8 L0.9,-5.8 L1.3846153846153846,-3.8 Z" fill="#e8e8e8" stroke="#444" stroke-width="0.35"/></g>
<path d="M58.00,24.95 L62.01,24.54 L58.29,27.67 L61.91,27.27 L57.28,30.44 L63.09,29.95 L57.07,33.18 L63.19,32.68 L56.78,35.92 L64.14,35.36 L56.46,38.66 L64.04,38.10 L56.36,41.39 L64.96,40.79 L55.50,44.16" fill="none" stroke="#4a4849" stroke-width="1.9" stroke-linejoin="round" stroke-linecap="round" stroke-opacity="0.92"/>
<line x1="74.65" y1="17.86" x2="75.19" y2="34.85" stroke="#B4DEDA" stroke-width="1.8" stroke-opacity="0.85" stroke-linecap="round"/>
<line x1="76.55" y1="17.91" x2="77.09" y2="34.90" stroke="#B4DEDA" stroke-width="1.8" stroke-opacity="0.85" stroke-linecap="round"/>
<g transform="translate(73.04,39.99) rotate(22)"><rect x="-1.8" y="-3.8" width="3.6" height="7.6" rx="0.7" fill="#A9DAD5" stroke="#3a3a3a" stroke-width="0.45"/><path d="M-1.3846153846153846,-3.8 L-0.9,-5.8 L0.9,-5.8 L1.3846153846153846,-3.8 Z" fill="#e8e8e8" stroke="#444" stroke-width="0.35"/></g>
<path d="M84.94,19.10 L87.56,18.52 L84.83,21.89 L88.41,21.19 L84.58,24.70 L88.74,23.92 L85.08,27.41 L90.27,26.50 L84.82,30.23 L90.39,29.26 L83.84,33.14 L91.47,31.89 L83.92,35.90 L92.27,34.57 L84.12,38.66" fill="none" stroke="#B4DEDA" stroke-width="1.9" stroke-linejoin="round" stroke-linecap="round" stroke-opacity="0.92"/>
<g transform="translate(86.01,40.49) rotate(22)"><rect x="-1.8" y="-3.8" width="3.6" height="7.6" rx="0.7" fill="#A9DAD5" stroke="#3a3a3a" stroke-width="0.45"/><path d="M-1.3846153846153846,-3.8 L-0.9,-5.8 L0.9,-5.8 L1.3846153846153846,-3.8 Z" fill="#e8e8e8" stroke="#444" stroke-width="0.35"/></g>
<g transform="translate(100.28,19.90) rotate(-25)"><rect x="-1.8" y="-3.8" width="3.6" height="7.6" rx="0.7" fill="#BEBEBE" stroke="#3a3a3a" stroke-width="0.45"/><path d="M-1.3846153846153846,-3.8 L-0.9,-5.8 L0.9,-5.8 L1.3846153846153846,-3.8 Z" fill="#e8e8e8" stroke="#444" stroke-width="0.35"/></g>
<line x1="102.13" y1="24.79" x2="102.97" y2="43.00" stroke="#d2d2d2" stroke-width="1.9" stroke-opacity="0.85" stroke-linecap="round"/>
<line x1="104.03" y1="24.84" x2="104.88" y2="43.04" stroke="#d2d2d2" stroke-width="1.9" stroke-opacity="0.85" stroke-linecap="round"/>
<g transform="translate(113.27,19.53) rotate(-25)"><rect x="-1.8" y="-3.8" width="3.6" height="7.6" rx="0.7" fill="#BEBEBE" stroke="#3a3a3a" stroke-width="0.45"/><path d="M-1.3846153846153846,-3.8 L-0.9,-5.8 L0.9,-5.8 L1.3846153846153846,-3.8 Z" fill="#e8e8e8" stroke="#444" stroke-width="0.35"/></g>
<path d="M113.95,24.94 L116.65,24.56 L113.54,27.64 L117.20,27.22 L113.52,30.32 L117.96,29.86 L112.35,33.05 L118.98,32.50 L112.13,35.74 L118.84,35.18 L112.07,38.43 L119.45,37.84 L112.30,41.09 L119.70,40.50 L111.94,43.79" fill="none" stroke="#C6C6C6" stroke-width="1.9" stroke-linejoin="round" stroke-linecap="round" stroke-opacity="0.92"/>
<line x1="19.88" y1="50.42" x2="20.56" y2="68.44" stroke="#F8CB7E" stroke-width="1.7" stroke-opacity="0.85" stroke-linecap="round"/>
<line x1="21.78" y1="50.47" x2="22.46" y2="68.49" stroke="#F8CB7E" stroke-width="1.7" stroke-opacity="0.85" stroke-linecap="round"/>
<g transform="translate(18.93,73.60) rotate(22)"><rect x="-1.8" y="-3.8" width="3.6" height="7.6" rx="0.7" fill="#F6B94F" stroke="#3a3a3a" stroke-width="0.45"/><path d="M-1.3846153846153846,-3.8 L-0.9,-5.8 L0.9,-5.8 L1.3846153846153846,-3.8 Z" fill="#e8e8e8" stroke="#444" stroke-width="0.35"/></g>
<path d="M29.56,51.67 L32.32,51.19 L29.26,54.81 L33.17,54.16 L29.53,57.87 L34.18,57.10 L29.85,60.92 L35.02,60.07 L29.39,64.08 L36.28,62.98 L30.09,67.08 L36.54,66.04 L30.16,70.16 L38.22,68.89 L29.22,73.40" fill="none" stroke="#F8CB7E" stroke-width="1.9" stroke-linejoin="round" stroke-linecap="round" stroke-opacity="0.92"/>
<g transform="translate(31.04,73.73) rotate(22)"><rect x="-1.8" y="-3.8" width="3.6" height="7.6" rx="0.7" fill="#F6B94F" stroke="#3a3a3a" stroke-width="0.45"/><path d="M-1.3846153846153846,-3.8 L-0.9,-5.8 L0.9,-5.8 L1.3846153846153846,-3.8 Z" fill="#e8e8e8" stroke="#444" stroke-width="0.35"/></g>
<g transform="translate(45.49,53.14) rotate(-25)"><rect x="-1.8" y="-3.8" width="3.6" height="7.6" rx="0.7" fill="#1f1f1f" stroke="#3a3a3a" stroke-width="0.45"/><path d="M-1.3846153846153846,-3.8 L-0.9,-5.8 L0.9,-5.8 L1.3846153846153846,-3.8 Z" fill="#e8e8e8" stroke="#444" stroke-width="0.35"/></g>
<line x1="47.16" y1="58.03" x2="48.01" y2="76.06" stroke="#6f6f6f" stroke-width="1.8" stroke-opacity="0.85" stroke-linecap="round"/>
<line x1="49.06" y1="58.08" x2="49.92" y2="76.11" stroke="#6f6f6f" stroke-width="1.8" stroke-opacity="0.85" stroke-linecap="round"/>
<g transform="translate(58.30,52.78) rotate(-25)"><rect x="-1.8" y="-3.8" width="3.6" height="7.6" rx="0.7" fill="#1f1f1f" stroke="#3a3a3a" stroke-width="0.45"/><path d="M-1.3846153846153846,-3.8 L-0.9,-5.8 L0.9,-5.8 L1.3846153846153846,-3.8 Z" fill="#e8e8e8" stroke="#444" stroke-width="0.35"/></g>
<path d="M58.71,57.85 L62.22,57.46 L58.22,60.60 L62.37,60.18 L58.48,63.32 L63.13,62.88 L57.93,66.07 L64.21,65.56 L57.09,68.83 L64.55,68.28 L56.91,71.57 L65.23,70.98 L57.24,74.29 L65.45,73.70 L56.93,77.03" fill="none" stroke="#4a4849" stroke-width="1.9" stroke-linejoin="round" stroke-linecap="round" stroke-opacity="0.92"/>
<line x1="75.06" y1="50.78" x2="75.60" y2="67.76" stroke="#B4DEDA" stroke-width="1.8" stroke-opacity="0.85" stroke-linecap="round"/>
<line x1="76.96" y1="50.82" x2="77.50" y2="67.81" stroke="#B4DEDA" stroke-width="1.8" stroke-opacity="0.85" stroke-linecap="round"/>
<g transform="translate(73.45,72.90) rotate(22)"><rect x="-1.8" y="-3.8" width="3.6" height="7.6" rx="0.7" fill="#A9DAD5" stroke="#3a3a3a" stroke-width="0.45"/><path d="M-1.3846153846153846,-3.8 L-0.9,-5.8 L0.9,-5.8 L1.3846153846153846,-3.8 Z" fill="#e8e8e8" stroke="#444" stroke-width="0.35"/></g>
<path d="M85.34,52.01 L88.05,51.42 L85.04,54.83 L88.99,54.07 L85.34,57.57 L89.30,56.81 L85.36,60.34 L90.04,59.49 L84.69,63.21 L90.68,62.19 L84.85,65.97 L91.53,64.85 L85.12,68.71 L92.61,67.49 L84.21,71.61" fill="none" stroke="#B4DEDA" stroke-width="1.9" stroke-linejoin="round" stroke-linecap="round" stroke-opacity="0.92"/>
<g transform="translate(86.42,73.40) rotate(22)"><rect x="-1.8" y="-3.8" width="3.6" height="7.6" rx="0.7" fill="#A9DAD5" stroke="#3a3a3a" stroke-width="0.45"/><path d="M-1.3846153846153846,-3.8 L-0.9,-5.8 L0.9,-5.8 L1.3846153846153846,-3.8 Z" fill="#e8e8e8" stroke="#444" stroke-width="0.35"/></g>
<g transform="translate(100.69,52.81) rotate(-25)"><rect x="-1.8" y="-3.8" width="3.6" height="7.6" rx="0.7" fill="#BEBEBE" stroke="#3a3a3a" stroke-width="0.45"/><path d="M-1.3846153846153846,-3.8 L-0.9,-5.8 L0.9,-5.8 L1.3846153846153846,-3.8 Z" fill="#e8e8e8" stroke="#444" stroke-width="0.35"/></g>
<line x1="102.54" y1="57.70" x2="103.38" y2="75.91" stroke="#d2d2d2" stroke-width="1.9" stroke-opacity="0.85" stroke-linecap="round"/>
<line x1="104.44" y1="57.75" x2="105.29" y2="75.96" stroke="#d2d2d2" stroke-width="1.9" stroke-opacity="0.85" stroke-linecap="round"/>
<g transform="translate(113.68,52.45) rotate(-25)"><rect x="-1.8" y="-3.8" width="3.6" height="7.6" rx="0.7" fill="#BEBEBE" stroke="#3a3a3a" stroke-width="0.45"/><path d="M-1.3846153846153846,-3.8 L-0.9,-5.8 L0.9,-5.8 L1.3846153846153846,-3.8 Z" fill="#e8e8e8" stroke="#444" stroke-width="0.35"/></g>
<path d="M114.43,57.85 L117.44,57.46 L113.77,60.56 L118.24,60.10 L113.75,63.24 L118.23,62.78 L112.96,65.96 L119.22,65.42 L113.11,68.63 L119.86,68.07 L112.67,71.33 L120.61,70.71 L112.79,74.00 L120.31,73.41 L111.15,76.76" fill="none" stroke="#C6C6C6" stroke-width="1.9" stroke-linejoin="round" stroke-linecap="round" stroke-opacity="0.92"/>
<path d="M22.60,91.02 L22.93,86.90 L25.16,91.58 L25.54,87.09 L27.75,91.97 L28.13,87.45 L30.40,91.86 L30.67,88.15 L32.88,93.00 L33.28,88.36 L35.46,93.40 L35.81,89.13 L38.09,93.49 L38.41,89.38 L40.66,93.98 L41.04,89.46 L43.30,93.96" fill="none" stroke="#d9b06a" stroke-width="0.9" stroke-linejoin="round" stroke-linecap="round" stroke-opacity="0.8"/>
<path d="M22.56,92.01 L22.91,87.70 L25.17,92.22 L25.44,88.46 L27.80,92.29 L28.08,88.52 L30.33,93.07 L30.68,88.79 L32.92,93.42 L33.27,89.13 L35.51,93.77 L35.86,89.45 L38.03,94.56 L38.41,90.11 L40.63,94.84 L41.03,90.24 L43.25,94.98" fill="none" stroke="#555" stroke-width="0.9" stroke-linejoin="round" stroke-linecap="round" stroke-opacity="0.7"/>
<path d="M22.58,92.54 L22.81,89.06 L25.13,93.21 L25.39,89.47 L27.72,93.55 L28.02,89.60 L30.35,93.62 L30.62,89.85 L32.93,94.02 L33.20,90.26 L35.51,94.47 L35.75,90.88 L38.04,95.18 L38.43,90.64 L40.66,95.36 L40.95,91.49 L43.17,96.21" fill="none" stroke="#9ccdc8" stroke-width="0.9" stroke-linejoin="round" stroke-linecap="round" stroke-opacity="0.9"/>
<g transform="translate(45.17,87.25) rotate(62)"><rect x="-1.3" y="-2.75" width="2.6" height="5.5" rx="0.7" fill="#8fc4bf" stroke="#3a3a3a" stroke-width="0.45"/><path d="M-1.0,-2.75 L-0.65,-4.75 L0.65,-4.75 L1.0,-2.75 Z" fill="#e8e8e8" stroke="#444" stroke-width="0.35"/></g>
<g transform="translate(54.56,85.93) rotate(-62)"><rect x="-1.3" y="-2.75" width="2.6" height="5.5" rx="0.7" fill="#8fc4bf" stroke="#3a3a3a" stroke-width="0.45"/><path d="M-1.0,-2.75 L-0.65,-4.75 L0.65,-4.75 L1.0,-2.75 Z" fill="#e8e8e8" stroke="#444" stroke-width="0.35"/></g>
<line x1="61.92" y1="88.37" x2="83.51" y2="89.60" stroke="#d9b06a" stroke-width="1.0" stroke-opacity="0.8"/>
<line x1="61.90" y1="89.23" x2="83.49" y2="90.47" stroke="#555" stroke-width="1.0" stroke-opacity="0.7"/>
<line x1="61.87" y1="90.10" x2="83.46" y2="91.33" stroke="#9ccdc8" stroke-width="1.0" stroke-opacity="0.9"/>
<line x1="89.06" y1="89.40" x2="109.84" y2="88.89" stroke="#d9b06a" stroke-width="1.0" stroke-opacity="0.8"/>
<line x1="89.03" y1="90.26" x2="109.81" y2="89.75" stroke="#555" stroke-width="1.0" stroke-opacity="0.7"/>
<line x1="89.01" y1="91.13" x2="109.78" y2="90.62" stroke="#9ccdc8" stroke-width="1.0" stroke-opacity="0.9"/>
<g transform="translate(117.35,86.30) rotate(62)"><rect x="-1.3" y="-2.75" width="2.6" height="5.5" rx="0.7" fill="#8fc4bf" stroke="#3a3a3a" stroke-width="0.45"/><path d="M-1.0,-2.75 L-0.65,-4.75 L0.65,-4.75 L1.0,-2.75 Z" fill="#e8e8e8" stroke="#444" stroke-width="0.35"/></g>
<g transform="translate(18.04,97.82) rotate(-62)"><rect x="-1.3" y="-2.75" width="2.6" height="5.5" rx="0.7" fill="#8fc4bf" stroke="#3a3a3a" stroke-width="0.45"/><path d="M-1.0,-2.75 L-0.65,-4.75 L0.65,-4.75 L1.0,-2.75 Z" fill="#e8e8e8" stroke="#444" stroke-width="0.35"/></g>
<line x1="25.27" y1="99.21" x2="42.54" y2="100.17" stroke="#d9b06a" stroke-width="1.0" stroke-opacity="0.8"/>
<line x1="25.24" y1="100.08" x2="42.52" y2="101.03" stroke="#555" stroke-width="1.0" stroke-opacity="0.7"/>
<line x1="25.22" y1="100.94" x2="42.49" y2="101.90" stroke="#9ccdc8" stroke-width="1.0" stroke-opacity="0.9"/>
<g transform="translate(57.61,99.51) rotate(-62)"><rect x="-1.3" y="-2.75" width="2.6" height="5.5" rx="0.7" fill="#8fc4bf" stroke="#3a3a3a" stroke-width="0.45"/><path d="M-1.0,-2.75 L-0.65,-4.75 L0.65,-4.75 L1.0,-2.75 Z" fill="#e8e8e8" stroke="#444" stroke-width="0.35"/></g>
<path d="M64.14,102.22 L63.59,98.49 L66.41,101.97 L65.86,98.03 L68.68,101.86 L68.14,98.22 L70.97,102.53 L70.41,98.45 L73.24,102.25 L72.68,97.94 L75.50,101.83 L74.95,98.04 L77.79,102.35 L77.22,97.90 L80.06,102.36 L79.50,98.05 L82.32,101.94" fill="none" stroke="#d9b06a" stroke-width="0.9" stroke-linejoin="round" stroke-linecap="round" stroke-opacity="0.8"/>
<path d="M64.12,103.17 L63.57,99.32 L66.39,103.16 L65.84,99.39 L68.67,103.33 L68.10,98.84 L70.94,103.20 L70.39,99.26 L73.21,103.09 L72.66,99.04 L75.48,102.86 L74.92,98.44 L77.77,103.46 L77.20,99.10 L80.04,103.34 L79.47,98.54 L82.30,102.93" fill="none" stroke="#555" stroke-width="0.9" stroke-linejoin="round" stroke-linecap="round" stroke-opacity="0.7"/>
<path d="M64.09,103.95 L63.54,100.09 L66.37,104.29 L65.81,100.07 L68.64,103.97 L68.08,99.88 L70.91,103.71 L70.36,99.85 L73.19,104.04 L72.62,99.53 L75.45,103.60 L74.90,99.84 L77.72,103.58 L77.16,99.33 L80.01,104.07 L79.45,99.88 L82.29,104.30" fill="none" stroke="#9ccdc8" stroke-width="0.9" stroke-linejoin="round" stroke-linecap="round" stroke-opacity="0.9"/>
<path d="M88.19,101.19 L88.22,97.22 L90.77,101.59 L90.78,97.78 L93.39,101.36 L93.39,97.79 L95.96,101.81 L96.01,97.63 L98.52,102.39 L98.59,97.97 L101.12,102.54 L101.19,98.09 L103.73,102.46 L103.76,98.45 L106.31,102.73 L106.39,98.24 L108.91,102.89" fill="none" stroke="#d9b06a" stroke-width="0.9" stroke-linejoin="round" stroke-linecap="round" stroke-opacity="0.8"/>
<path d="M88.18,101.90 L88.20,98.07 L90.74,102.47 L90.80,98.12 L93.36,102.35 L93.36,98.76 L95.95,102.58 L95.95,98.95 L98.49,103.29 L98.53,99.20 L101.09,103.39 L101.13,99.32 L103.69,103.45 L103.74,99.32 L106.24,104.16 L106.34,99.35 L108.89,103.72" fill="none" stroke="#555" stroke-width="0.9" stroke-linejoin="round" stroke-linecap="round" stroke-opacity="0.7"/>
<path d="M88.17,102.66 L88.18,98.92 L90.72,103.31 L90.78,98.92 L93.33,103.28 L93.33,99.61 L95.88,103.89 L95.95,99.48 L98.50,103.82 L98.55,99.63 L101.08,104.14 L101.14,99.73 L103.68,104.17 L103.70,100.36 L106.21,105.07 L106.30,100.43 L108.84,104.79" fill="none" stroke="#9ccdc8" stroke-width="0.9" stroke-linejoin="round" stroke-linecap="round" stroke-opacity="0.9"/>
<g transform="translate(115.27,98.03) rotate(62)"><rect x="-1.3" y="-2.75" width="2.6" height="5.5" rx="0.7" fill="#8fc4bf" stroke="#3a3a3a" stroke-width="0.45"/><path d="M-1.0,-2.75 L-0.65,-4.75 L0.65,-4.75 L1.0,-2.75 Z" fill="#e8e8e8" stroke="#444" stroke-width="0.35"/></g>
<g transform="translate(21.00,108.97) rotate(-65)"><rect x="-1.7" y="-4.0" width="3.4" height="8" rx="0.7" fill="#BEBEBE" stroke="#3a3a3a" stroke-width="0.45"/><path d="M-1.3076923076923077,-4.0 L-0.85,-6.0 L0.85,-6.0 L1.3076923076923077,-4.0 Z" fill="#e8e8e8" stroke="#444" stroke-width="0.35"/></g>
<path d="M29.40,116.36 L28.72,110.03 L32.67,116.84 L31.90,109.71 L35.81,116.17 L35.01,108.67 L39.12,116.93 L38.21,108.48 L42.28,116.39 L41.41,108.34 L45.39,115.45 L44.54,107.54 L48.71,116.34 L47.76,107.51 L51.96,116.64 L50.88,106.65 L55.05,115.48 L54.08,106.46 L58.43,116.92" fill="none" stroke="#C6C6C6" stroke-width="1.6" stroke-linejoin="round" stroke-linecap="round" stroke-opacity="0.92"/>
<line x1="79.02" y1="112.87" x2="107.05" y2="112.71" stroke="#d4d4d4" stroke-width="1.8"/>
<line x1="78.96" y1="114.94" x2="106.99" y2="114.79" stroke="#d4d4d4" stroke-width="1.8"/>
<g transform="translate(114.41,109.61) rotate(62)"><rect x="-1.7" y="-4.0" width="3.4" height="8" rx="0.7" fill="#BEBEBE" stroke="#3a3a3a" stroke-width="0.45"/><path d="M-1.3076923076923077,-4.0 L-0.85,-6.0 L0.85,-6.0 L1.3076923076923077,-4.0 Z" fill="#e8e8e8" stroke="#444" stroke-width="0.35"/></g>
<line x1="22.13" y1="123.55" x2="22.53" y2="150.92" stroke="#F8CB7E" stroke-width="1.9" stroke-opacity="0.85" stroke-linecap="round"/>
<line x1="24.55" y1="123.61" x2="24.95" y2="150.98" stroke="#F8CB7E" stroke-width="1.9" stroke-opacity="0.85" stroke-linecap="round"/>
<g transform="translate(19.19,158.45) rotate(20)"><rect x="-1.8" y="-4.25" width="3.6" height="8.5" rx="0.7" fill="#F6B94F" stroke="#3a3a3a" stroke-width="0.45"/><path d="M-1.3846153846153846,-4.25 L-0.9,-6.25 L0.9,-6.25 L1.3846153846153846,-4.25 Z" fill="#e8e8e8" stroke="#444" stroke-width="0.35"/></g>
<g transform="translate(35.70,126.66) rotate(-30)"><rect x="-1.8" y="-4.25" width="3.6" height="8.5" rx="0.7" fill="#F6B94F" stroke="#3a3a3a" stroke-width="0.45"/><path d="M-1.3846153846153846,-4.25 L-0.9,-6.25 L0.9,-6.25 L1.3846153846153846,-4.25 Z" fill="#e8e8e8" stroke="#444" stroke-width="0.35"/></g>
<path d="M39.14,134.16 L44.06,134.67 L38.13,137.46 L44.77,138.12 L37.87,140.82 L44.03,141.44 L37.17,144.14 L44.98,144.91 L36.73,147.49 L45.01,148.29 L35.29,150.75 L44.01,151.59 L34.89,154.10 L44.57,155.03 L34.51,157.45 L45.69,158.51 L34.56,160.84 L43.71,161.72 L32.16,164.02" fill="none" stroke="#F8CB7E" stroke-width="1.7" stroke-linejoin="round" stroke-linecap="round" stroke-opacity="0.92"/>
<line x1="53.95" y1="124.01" x2="54.90" y2="150.35" stroke="#6f6f6f" stroke-width="2.0" stroke-opacity="0.85" stroke-linecap="round"/>
<line x1="56.37" y1="124.07" x2="57.32" y2="150.41" stroke="#6f6f6f" stroke-width="2.0" stroke-opacity="0.85" stroke-linecap="round"/>
<g transform="translate(60.02,158.45) rotate(-25)"><rect x="-1.8" y="-4.25" width="3.6" height="8.5" rx="0.7" fill="#1f1f1f" stroke="#3a3a3a" stroke-width="0.45"/><path d="M-1.3846153846153846,-4.25 L-0.9,-6.25 L0.9,-6.25 L1.3846153846153846,-4.25 Z" fill="#e8e8e8" stroke="#444" stroke-width="0.35"/></g>
<path d="M75.42,124.67 L81.08,125.24 L74.56,127.98 L82.02,128.71 L73.69,131.29 L81.83,132.08 L73.71,134.67 L81.54,135.44 L71.89,137.90 L81.59,138.83 L71.05,141.21 L82.29,142.27 L71.50,144.63 L80.61,145.51 L70.11,147.90 L80.84,148.92 L71.09,151.37 L82.18,152.42 L68.63,154.54" fill="none" stroke="#4a4849" stroke-width="1.7" stroke-linejoin="round" stroke-linecap="round" stroke-opacity="0.92"/>
<g transform="translate(80.77,158.97) rotate(-25)"><rect x="-1.8" y="-4.25" width="3.6" height="8.5" rx="0.7" fill="#1f1f1f" stroke="#3a3a3a" stroke-width="0.45"/><path d="M-1.3846153846153846,-4.25 L-0.9,-6.25 L0.9,-6.25 L1.3846153846153846,-4.25 Z" fill="#e8e8e8" stroke="#444" stroke-width="0.35"/></g>
<line x1="96.54" y1="123.18" x2="96.79" y2="149.68" stroke="#B4DEDA" stroke-width="2.0" stroke-opacity="0.85" stroke-linecap="round"/>
<line x1="98.96" y1="123.24" x2="99.21" y2="149.74" stroke="#B4DEDA" stroke-width="2.0" stroke-opacity="0.85" stroke-linecap="round"/>
<g transform="translate(93.59,158.60) rotate(20)"><rect x="-1.8" y="-4.25" width="3.6" height="8.5" rx="0.7" fill="#A9DAD5" stroke="#3a3a3a" stroke-width="0.45"/><path d="M-1.3846153846153846,-4.25 L-0.9,-6.25 L0.9,-6.25 L1.3846153846153846,-4.25 Z" fill="#e8e8e8" stroke="#444" stroke-width="0.35"/></g>
<path d="M110.74,124.18 L116.91,124.08 L110.20,127.67 L116.95,127.55 L110.15,131.14 L118.28,130.98 L109.52,134.64 L117.72,134.47 L109.66,138.10 L118.89,137.89 L109.67,141.57 L120.03,141.32 L109.40,145.05 L119.55,144.81 L108.32,148.56 L120.43,148.25 L109.42,152.00 L120.20,151.73 L108.78,155.49" fill="none" stroke="#B4DEDA" stroke-width="1.7" stroke-linejoin="round" stroke-linecap="round" stroke-opacity="0.92"/>
<g transform="translate(110.87,159.04) rotate(20)"><rect x="-1.8" y="-4.25" width="3.6" height="8.5" rx="0.7" fill="#A9DAD5" stroke="#3a3a3a" stroke-width="0.45"/><path d="M-1.3846153846153846,-4.25 L-0.9,-6.25 L0.9,-6.25 L1.3846153846153846,-4.25 Z" fill="#e8e8e8" stroke="#444" stroke-width="0.35"/></g>
</g>
<g transform="matrix(0.99902 0.03892 -0.03945 1.00197 867.21 790.73)" font-family="'Liberation Sans','DejaVu Sans',sans-serif">
<rect x="0" y="0" width="133.4" height="175.5" fill="#fff"/>
<rect x="0.65" y="0.65" width="132.1" height="174.2" fill="none" stroke="#303030" stroke-width="1.3"/>
<rect x="5.1" y="4.9" width="123.2" height="165.7" fill="none" stroke="#303030" stroke-width="1.15"/>
<g transform="translate(10.94,13.91) rotate(0.66)">
<rect x="0.8" y="-5.00" width="111.42" height="5.00" fill="url(#hstripe)"/>
<text x="2.4" y="-1.0" font-size="3.60" font-weight="700" fill="#222" textLength="21.47" lengthAdjust="spacingAndGlyphs">sweet like honey</text>
<text x="53.51" y="-0.9" font-size="5.04" font-style="italic" font-weight="700" fill="#1a1a1a" text-anchor="middle" textLength="20.34" lengthAdjust="spacingAndGlyphs">Adorably Amy</text>
<text x="73.46" y="-1.4" font-size="2.88" fill="#aaa" text-anchor="middle" textLength="11.30" lengthAdjust="spacingAndGlyphs">designs</text>
<text x="111.02" y="-1.0" font-size="3.60" font-weight="700" fill="#222" text-anchor="end" textLength="22.60" lengthAdjust="spacingAndGlyphs">over the week strips</text>
<rect x="0" y="-0.1" width="113.02" height="0.95" fill="#333"/>
</g>
<polygon points="11.91,16.47 43.11,16.71 41.77,167.07 10.57,166.82" fill="url(#pBee)"/>
<polygon points="44.49,16.72 55.24,16.81 53.90,167.16 43.15,167.08" fill="url(#pTealX)"/>
<polygon points="56.10,16.81 67.37,16.90 66.03,167.26 54.76,167.17" fill="url(#pDots)"/>
<polygon points="68.58,16.91 79.85,17.00 78.51,167.36 67.24,167.27" fill="url(#pGoldX)"/>
<polygon points="80.88,17.01 91.63,17.09 90.29,167.45 79.55,167.37" fill="url(#pTealD)"/>
<polygon points="92.50,17.10 99.43,17.15 98.09,167.51 91.16,167.46" fill="url(#pGrayD)"/>
<polygon points="100.29,17.16 106.88,17.21 105.54,167.57 98.96,167.52" fill="#F9C264"/>
<polygon points="108.09,17.22 114.16,17.27 112.82,167.63 106.75,167.58" fill="#BDBDBD"/>
<polygon points="115.37,17.28 121.44,17.33 120.10,167.68 114.03,167.64" fill="#AEDCD8"/>
</g>
</g>
</svg>
<div class="t" style="left:202px;top:426.82px;width:800px;font-size:26.5px;letter-spacing:0.499px;text-indent:0.499px;color:#0d0d0d;font-weight:400;-webkit-text-stroke:0.8px #0d0d0d;">kit addons</div>
<div class="t" style="left:202px;top:454.52px;width:800px;font-size:26.5px;letter-spacing:0.531px;text-indent:0.531px;color:#0d0d0d;font-weight:400;-webkit-text-stroke:0.8px #0d0d0d;">journaling</div>
<div class="t" style="left:202px;top:482.22px;width:800px;font-size:26.5px;letter-spacing:0.065px;text-indent:0.065px;color:#0d0d0d;font-weight:400;-webkit-text-stroke:0.8px #0d0d0d;">vertical, b6,</div>
<div class="t" style="left:202px;top:509.52px;width:800px;font-size:26.5px;letter-spacing:-0.191px;text-indent:-0.191px;color:#0d0d0d;font-weight:400;-webkit-text-stroke:0.8px #0d0d0d;">cousin &amp;</div>
<div class="t" style="left:202px;top:536.92px;width:800px;font-size:26.5px;letter-spacing:0.502px;text-indent:0.502px;color:#0d0d0d;font-weight:400;-webkit-text-stroke:0.8px #0d0d0d;">daily duo</div>
<div class="t" style="left:136.70000000000005px;top:845.94px;width:800px;font-size:12px;letter-spacing:0.336px;text-indent:0.336px;color:#0d0d0d;font-weight:400;-webkit-text-stroke:0.3px #0d0d0d;">sheet h is</div>
<div class="t" style="left:136.70000000000005px;top:859.24px;width:800px;font-size:12px;letter-spacing:0.982px;text-indent:0.982px;color:#0d0d0d;font-weight:400;-webkit-text-stroke:0.3px #0d0d0d;">3.4” w</div>
<div class="t" style="left:136.70000000000005px;top:872.44px;width:800px;font-size:12px;letter-spacing:0.688px;text-indent:0.688px;color:#0d0d0d;font-weight:400;-webkit-text-stroke:0.3px #0d0d0d;">4.7” t</div>
<div class="t" style="left:136.70000000000005px;top:884.94px;width:800px;font-size:12px;letter-spacing:0.281px;text-indent:0.281px;color:#0d0d0d;font-weight:400;-webkit-text-stroke:0.3px #0d0d0d;">sheets j &amp; o size:</div>
<div class="t" style="left:136.70000000000005px;top:898.24px;width:800px;font-size:12px;letter-spacing:0.982px;text-indent:0.982px;color:#0d0d0d;font-weight:400;-webkit-text-stroke:0.3px #0d0d0d;">3.4” w</div>
<div class="t" style="left:136.70000000000005px;top:911.34px;width:800px;font-size:12px;letter-spacing:0.688px;text-indent:0.688px;color:#0d0d0d;font-weight:400;-webkit-text-stroke:0.3px #0d0d0d;">2.9” t</div>
<div class="t" style="left:139.70000000000005px;top:925.04px;width:800px;font-size:12px;letter-spacing:0.379px;text-indent:0.379px;color:#0d0d0d;font-weight:400;-webkit-text-stroke:0.3px #0d0d0d;">other sheets size:</div>
<div class="t" style="left:139.70000000000005px;top:937.24px;width:800px;font-size:12px;letter-spacing:0.840px;text-indent:0.840px;color:#0d0d0d;font-weight:400;-webkit-text-stroke:0.3px #0d0d0d;">4.88” w</div>
<div class="t" style="left:139.70000000000005px;top:950.94px;width:800px;font-size:12px;letter-spacing:0.695px;text-indent:0.695px;color:#0d0d0d;font-weight:400;-webkit-text-stroke:0.3px #0d0d0d;">7.00” t</div>
<div class="lab" style="left:725px;top:308.2px">a</div>
<div class="lab" style="left:883px;top:241.2px">b</div>
<div class="lab" style="left:1049px;top:342.2px">c</div>
<div class="lab" style="left:1203px;top:249.2px">d</div>
<div class="lab" style="left:731px;top:438.2px">e</div>
<div class="lab" style="left:899px;top:433.2px">f</div>
<div class="lab" style="left:1060px;top:554.2px">g</div>
<div class="lab" style="left:1212px;top:425.2px">h</div>
<div class="lab" style="left:688px;top:629.2px">i</div>
<div class="lab" style="left:853px;top:659.2px">j</div>
<div class="lab" style="left:1024px;top:619.2px">k</div>
<div class="lab" style="left:1185px;top:637.2px">l</div>
<div class="lab" style="left:818px;top:929.2px">m</div>
<div class="lab" style="left:1000px;top:808.2px">n</div>
<div class="lab" style="left:1317px;top:821.2px">o</div>
</body></html>
